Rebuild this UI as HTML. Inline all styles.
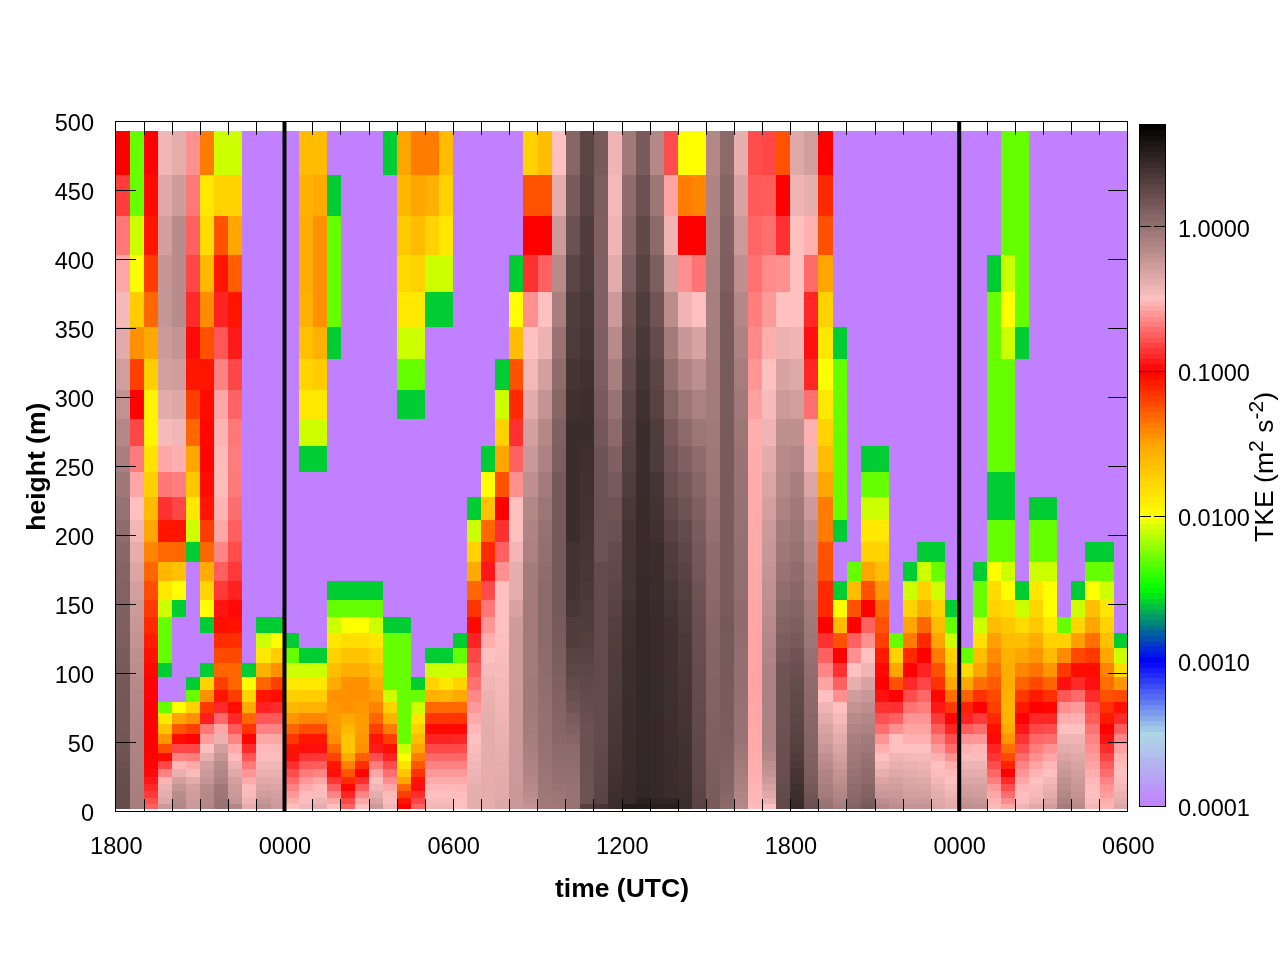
<!DOCTYPE html>
<html lang="en"><head><meta charset="utf-8"><title>TKE time-height</title><style>html,body{margin:0;padding:0;background:#fff;width:1280px;height:960px;overflow:hidden}</style></head><body>
<svg width="1280" height="960" viewBox="0 0 1280 960" style="display:block;position:absolute;left:0;top:0">
<rect width="1280" height="960" fill="#fff"/>
<g shape-rendering="crispEdges">
<rect x="116" y="784" width="14" height="25" fill="#664d4d"/>
<rect x="116" y="777" width="14" height="7" fill="#674e4e"/>
<rect x="116" y="769" width="14" height="8" fill="#684f4f"/>
<rect x="116" y="761" width="14" height="8" fill="#6b5151"/>
<rect x="116" y="753" width="14" height="8" fill="#6e5353"/>
<rect x="116" y="744" width="14" height="9" fill="#705555"/>
<rect x="116" y="734" width="14" height="10" fill="#725656"/>
<rect x="116" y="713" width="14" height="21" fill="#735656"/>
<rect x="116" y="702" width="14" height="11" fill="#735757"/>
<rect x="116" y="690" width="14" height="12" fill="#745757"/>
<rect x="116" y="677" width="14" height="13" fill="#755858"/>
<rect x="116" y="663" width="14" height="14" fill="#785a5a"/>
<rect x="116" y="648" width="14" height="15" fill="#7b5c5c"/>
<rect x="116" y="633" width="14" height="15" fill="#7d5e5e"/>
<rect x="116" y="617" width="14" height="16" fill="#7f5f5f"/>
<rect x="116" y="600" width="14" height="17" fill="#806161"/>
<rect x="116" y="581" width="14" height="19" fill="#826262"/>
<rect x="116" y="562" width="14" height="19" fill="#856464"/>
<rect x="116" y="542" width="14" height="20" fill="#8a6868"/>
<rect x="116" y="520" width="14" height="22" fill="#906c6c"/>
<rect x="116" y="497" width="14" height="23" fill="#977272"/>
<rect x="116" y="472" width="14" height="25" fill="#9f7878"/>
<rect x="116" y="446" width="14" height="26" fill="#a97f7f"/>
<rect x="116" y="419" width="14" height="27" fill="#b48888"/>
<rect x="116" y="390" width="14" height="29" fill="#c29292"/>
<rect x="116" y="359" width="14" height="31" fill="#d19e9e"/>
<rect x="116" y="327" width="14" height="32" fill="#e2aaaa"/>
<rect x="116" y="292" width="14" height="35" fill="#f6b9b9"/>
<rect x="116" y="255" width="14" height="37" fill="#ffa7a7"/>
<rect x="116" y="216" width="14" height="39" fill="#ff7777"/>
<rect x="116" y="175" width="14" height="41" fill="#ff3d3d"/>
<rect x="116" y="131" width="14" height="44" fill="#ff0000"/>
<rect x="130" y="804" width="14" height="5" fill="#a67d7d"/>
<rect x="130" y="798" width="14" height="6" fill="#a77e7e"/>
<rect x="130" y="791" width="14" height="7" fill="#a87e7e"/>
<rect x="130" y="784" width="14" height="7" fill="#a97f7f"/>
<rect x="130" y="777" width="14" height="7" fill="#aa8080"/>
<rect x="130" y="769" width="14" height="8" fill="#ab8080"/>
<rect x="130" y="761" width="14" height="8" fill="#ac8181"/>
<rect x="130" y="753" width="14" height="8" fill="#ad8282"/>
<rect x="130" y="744" width="14" height="9" fill="#ae8383"/>
<rect x="130" y="734" width="14" height="10" fill="#af8383"/>
<rect x="130" y="724" width="14" height="10" fill="#b08484"/>
<rect x="130" y="713" width="14" height="11" fill="#b18585"/>
<rect x="130" y="702" width="14" height="11" fill="#b28686"/>
<rect x="130" y="690" width="14" height="12" fill="#b48888"/>
<rect x="130" y="677" width="14" height="13" fill="#b78a8a"/>
<rect x="130" y="663" width="14" height="14" fill="#bb8d8d"/>
<rect x="130" y="648" width="14" height="15" fill="#bf9090"/>
<rect x="130" y="633" width="14" height="15" fill="#c49393"/>
<rect x="130" y="617" width="14" height="16" fill="#c89797"/>
<rect x="130" y="600" width="14" height="17" fill="#cd9a9a"/>
<rect x="130" y="581" width="14" height="19" fill="#d39f9f"/>
<rect x="130" y="562" width="14" height="19" fill="#dca6a6"/>
<rect x="130" y="542" width="14" height="20" fill="#e6adad"/>
<rect x="130" y="520" width="14" height="22" fill="#f1b6b6"/>
<rect x="130" y="497" width="14" height="23" fill="#fec0c0"/>
<rect x="130" y="472" width="14" height="25" fill="#ffa7a7"/>
<rect x="130" y="446" width="14" height="26" fill="#ff7a7a"/>
<rect x="130" y="419" width="14" height="27" fill="#ff4747"/>
<rect x="130" y="390" width="14" height="29" fill="#ff0101"/>
<rect x="130" y="359" width="14" height="31" fill="#ff3f00"/>
<rect x="130" y="327" width="14" height="32" fill="#ff9100"/>
<rect x="130" y="292" width="14" height="35" fill="#ffcc00"/>
<rect x="130" y="255" width="14" height="37" fill="#ffff00"/>
<rect x="130" y="216" width="14" height="39" fill="#ccff00"/>
<rect x="130" y="131" width="14" height="85" fill="#66ff00"/>
<rect x="144" y="804" width="14" height="5" fill="#ff6060"/>
<rect x="144" y="798" width="14" height="6" fill="#ff4e4e"/>
<rect x="144" y="791" width="14" height="7" fill="#ff3a3a"/>
<rect x="144" y="784" width="14" height="7" fill="#ff2727"/>
<rect x="144" y="777" width="14" height="7" fill="#ff1616"/>
<rect x="144" y="769" width="14" height="8" fill="#ff0a0a"/>
<rect x="144" y="761" width="14" height="8" fill="#ff0404"/>
<rect x="144" y="753" width="14" height="8" fill="#ff0101"/>
<rect x="144" y="702" width="14" height="51" fill="#ff0000"/>
<rect x="144" y="690" width="14" height="12" fill="#ff0100"/>
<rect x="144" y="677" width="14" height="13" fill="#ff0300"/>
<rect x="144" y="663" width="14" height="14" fill="#ff0800"/>
<rect x="144" y="648" width="14" height="15" fill="#ff1100"/>
<rect x="144" y="633" width="14" height="15" fill="#ff1c00"/>
<rect x="144" y="617" width="14" height="16" fill="#ff2a00"/>
<rect x="144" y="600" width="14" height="17" fill="#ff3a00"/>
<rect x="144" y="581" width="14" height="19" fill="#ff4e00"/>
<rect x="144" y="562" width="14" height="19" fill="#ff6600"/>
<rect x="144" y="542" width="14" height="20" fill="#ff8500"/>
<rect x="144" y="520" width="14" height="22" fill="#ffa700"/>
<rect x="144" y="497" width="14" height="23" fill="#ffbb00"/>
<rect x="144" y="472" width="14" height="25" fill="#ffd000"/>
<rect x="144" y="446" width="14" height="26" fill="#ffe200"/>
<rect x="144" y="390" width="14" height="56" fill="#fff300"/>
<rect x="144" y="359" width="14" height="31" fill="#ffce00"/>
<rect x="144" y="327" width="14" height="32" fill="#ffa800"/>
<rect x="144" y="292" width="14" height="35" fill="#ff6800"/>
<rect x="144" y="255" width="14" height="37" fill="#ff3d00"/>
<rect x="144" y="216" width="14" height="39" fill="#ff1500"/>
<rect x="144" y="175" width="14" height="41" fill="#ff0a00"/>
<rect x="144" y="131" width="14" height="44" fill="#ff0000"/>
<rect x="158" y="804" width="14" height="5" fill="#cc9a9a"/>
<rect x="158" y="798" width="14" height="6" fill="#dfa8a8"/>
<rect x="158" y="791" width="14" height="7" fill="#e5adad"/>
<rect x="158" y="784" width="14" height="7" fill="#ecb2b2"/>
<rect x="158" y="777" width="14" height="7" fill="#ffb4b4"/>
<rect x="158" y="769" width="14" height="8" fill="#ff8080"/>
<rect x="158" y="761" width="14" height="8" fill="#ff4747"/>
<rect x="158" y="753" width="14" height="8" fill="#ff0800"/>
<rect x="158" y="744" width="14" height="9" fill="#ff4e00"/>
<rect x="158" y="734" width="14" height="10" fill="#ff9500"/>
<rect x="158" y="724" width="14" height="10" fill="#ffc300"/>
<rect x="158" y="713" width="14" height="11" fill="#ffe800"/>
<rect x="158" y="702" width="14" height="11" fill="#66ff00"/>
<rect x="158" y="677" width="14" height="25" fill="#c080ff"/>
<rect x="158" y="663" width="14" height="14" fill="#00cc33"/>
<rect x="158" y="617" width="14" height="46" fill="#66ff00"/>
<rect x="158" y="600" width="14" height="17" fill="#ccff00"/>
<rect x="158" y="581" width="14" height="19" fill="#ffe800"/>
<rect x="158" y="562" width="14" height="19" fill="#ffb600"/>
<rect x="158" y="542" width="14" height="20" fill="#ff6800"/>
<rect x="158" y="520" width="14" height="22" fill="#ff1500"/>
<rect x="158" y="497" width="14" height="23" fill="#ff3131"/>
<rect x="158" y="472" width="14" height="25" fill="#ff7777"/>
<rect x="158" y="446" width="14" height="26" fill="#ffa7a7"/>
<rect x="158" y="419" width="14" height="27" fill="#f6baba"/>
<rect x="158" y="390" width="14" height="29" fill="#e4abab"/>
<rect x="158" y="359" width="14" height="31" fill="#d39f9f"/>
<rect x="158" y="327" width="14" height="32" fill="#cc9a9a"/>
<rect x="158" y="255" width="14" height="72" fill="#c69595"/>
<rect x="158" y="216" width="14" height="39" fill="#d29e9e"/>
<rect x="158" y="175" width="14" height="41" fill="#e0a8a8"/>
<rect x="158" y="131" width="14" height="44" fill="#f2b6b6"/>
<rect x="172" y="804" width="14" height="5" fill="#b28686"/>
<rect x="172" y="798" width="14" height="6" fill="#b68989"/>
<rect x="172" y="791" width="14" height="7" fill="#b98c8c"/>
<rect x="172" y="784" width="14" height="7" fill="#c69595"/>
<rect x="172" y="777" width="14" height="7" fill="#d39f9f"/>
<rect x="172" y="769" width="14" height="8" fill="#eab0b0"/>
<rect x="172" y="761" width="14" height="8" fill="#ffb7b7"/>
<rect x="172" y="753" width="14" height="8" fill="#ff8282"/>
<rect x="172" y="744" width="14" height="9" fill="#ff4747"/>
<rect x="172" y="734" width="14" height="10" fill="#ff0b00"/>
<rect x="172" y="724" width="14" height="10" fill="#ff5600"/>
<rect x="172" y="713" width="14" height="11" fill="#ffa500"/>
<rect x="172" y="702" width="14" height="11" fill="#ffff00"/>
<rect x="172" y="617" width="14" height="85" fill="#c080ff"/>
<rect x="172" y="600" width="14" height="17" fill="#00cc33"/>
<rect x="172" y="581" width="14" height="19" fill="#ffff00"/>
<rect x="172" y="562" width="14" height="19" fill="#ffc100"/>
<rect x="172" y="542" width="14" height="20" fill="#ff6800"/>
<rect x="172" y="520" width="14" height="22" fill="#ff1400"/>
<rect x="172" y="497" width="14" height="23" fill="#ff4747"/>
<rect x="172" y="472" width="14" height="25" fill="#ff7e7e"/>
<rect x="172" y="446" width="14" height="26" fill="#ffafaf"/>
<rect x="172" y="419" width="14" height="27" fill="#f2b6b6"/>
<rect x="172" y="390" width="14" height="29" fill="#dfa8a8"/>
<rect x="172" y="359" width="14" height="31" fill="#d09d9d"/>
<rect x="172" y="327" width="14" height="32" fill="#c49393"/>
<rect x="172" y="292" width="14" height="35" fill="#b98c8c"/>
<rect x="172" y="255" width="14" height="37" fill="#b98b8b"/>
<rect x="172" y="216" width="14" height="39" fill="#b98c8c"/>
<rect x="172" y="175" width="14" height="41" fill="#cf9c9c"/>
<rect x="172" y="131" width="14" height="44" fill="#e6adad"/>
<rect x="186" y="804" width="14" height="5" fill="#cc9a9a"/>
<rect x="186" y="798" width="14" height="6" fill="#cd9b9b"/>
<rect x="186" y="791" width="14" height="7" fill="#d09c9c"/>
<rect x="186" y="784" width="14" height="7" fill="#d39f9f"/>
<rect x="186" y="777" width="14" height="7" fill="#e5acac"/>
<rect x="186" y="769" width="14" height="8" fill="#f8baba"/>
<rect x="186" y="761" width="14" height="8" fill="#ffa8a8"/>
<rect x="186" y="753" width="14" height="8" fill="#ff7c7c"/>
<rect x="186" y="744" width="14" height="9" fill="#ff4747"/>
<rect x="186" y="734" width="14" height="10" fill="#ff0202"/>
<rect x="186" y="724" width="14" height="10" fill="#ff3f00"/>
<rect x="186" y="713" width="14" height="11" fill="#ff9100"/>
<rect x="186" y="702" width="14" height="11" fill="#ffd200"/>
<rect x="186" y="690" width="14" height="12" fill="#66ff00"/>
<rect x="186" y="677" width="14" height="13" fill="#00cc33"/>
<rect x="186" y="562" width="14" height="115" fill="#c080ff"/>
<rect x="186" y="542" width="14" height="20" fill="#00cc33"/>
<rect x="186" y="520" width="14" height="22" fill="#ccff00"/>
<rect x="186" y="497" width="14" height="23" fill="#ffe800"/>
<rect x="186" y="472" width="14" height="25" fill="#ffc700"/>
<rect x="186" y="446" width="14" height="26" fill="#ffa600"/>
<rect x="186" y="419" width="14" height="27" fill="#ff6800"/>
<rect x="186" y="390" width="14" height="29" fill="#ff3f00"/>
<rect x="186" y="359" width="14" height="31" fill="#ff1500"/>
<rect x="186" y="327" width="14" height="32" fill="#ff0a0a"/>
<rect x="186" y="292" width="14" height="35" fill="#ff2a2a"/>
<rect x="186" y="255" width="14" height="37" fill="#ff4747"/>
<rect x="186" y="216" width="14" height="39" fill="#ff6060"/>
<rect x="186" y="175" width="14" height="41" fill="#ff7878"/>
<rect x="186" y="131" width="14" height="44" fill="#ff9090"/>
<rect x="200" y="804" width="14" height="5" fill="#b28686"/>
<rect x="200" y="798" width="14" height="6" fill="#b48888"/>
<rect x="200" y="791" width="14" height="7" fill="#b68989"/>
<rect x="200" y="784" width="14" height="7" fill="#b98c8c"/>
<rect x="200" y="777" width="14" height="7" fill="#c59494"/>
<rect x="200" y="769" width="14" height="8" fill="#cc9a9a"/>
<rect x="200" y="761" width="14" height="8" fill="#d39f9f"/>
<rect x="200" y="753" width="14" height="8" fill="#e8afaf"/>
<rect x="200" y="744" width="14" height="9" fill="#fdbfbf"/>
<rect x="200" y="734" width="14" height="10" fill="#ff9d9d"/>
<rect x="200" y="724" width="14" height="10" fill="#ff7777"/>
<rect x="200" y="713" width="14" height="11" fill="#ff1e1e"/>
<rect x="200" y="702" width="14" height="11" fill="#ff3900"/>
<rect x="200" y="690" width="14" height="12" fill="#ff9100"/>
<rect x="200" y="677" width="14" height="13" fill="#ffd200"/>
<rect x="200" y="663" width="14" height="14" fill="#00cc33"/>
<rect x="200" y="633" width="14" height="30" fill="#c080ff"/>
<rect x="200" y="617" width="14" height="16" fill="#00cc33"/>
<rect x="200" y="600" width="14" height="17" fill="#ffff00"/>
<rect x="200" y="581" width="14" height="19" fill="#ffd400"/>
<rect x="200" y="562" width="14" height="19" fill="#ffab00"/>
<rect x="200" y="542" width="14" height="20" fill="#ff6800"/>
<rect x="200" y="520" width="14" height="22" fill="#ff3d00"/>
<rect x="200" y="497" width="14" height="23" fill="#ff1500"/>
<rect x="200" y="472" width="14" height="25" fill="#ff0b00"/>
<rect x="200" y="446" width="14" height="26" fill="#ff0500"/>
<rect x="200" y="419" width="14" height="27" fill="#ff0600"/>
<rect x="200" y="390" width="14" height="29" fill="#ff0c00"/>
<rect x="200" y="359" width="14" height="31" fill="#ff1500"/>
<rect x="200" y="327" width="14" height="32" fill="#ff5000"/>
<rect x="200" y="292" width="14" height="35" fill="#ff8c00"/>
<rect x="200" y="255" width="14" height="37" fill="#ffba00"/>
<rect x="200" y="216" width="14" height="39" fill="#ffdd00"/>
<rect x="200" y="175" width="14" height="41" fill="#ffe800"/>
<rect x="200" y="131" width="14" height="44" fill="#ff7c00"/>
<rect x="214" y="804" width="14" height="5" fill="#997373"/>
<rect x="214" y="798" width="14" height="6" fill="#9a7474"/>
<rect x="214" y="791" width="14" height="7" fill="#9d7676"/>
<rect x="214" y="784" width="14" height="7" fill="#a07878"/>
<rect x="214" y="777" width="14" height="7" fill="#ac8181"/>
<rect x="214" y="769" width="14" height="8" fill="#b28686"/>
<rect x="214" y="761" width="14" height="8" fill="#b98c8c"/>
<rect x="214" y="753" width="14" height="8" fill="#c69595"/>
<rect x="214" y="744" width="14" height="9" fill="#d39f9f"/>
<rect x="214" y="734" width="14" height="10" fill="#ecb2b2"/>
<rect x="214" y="724" width="14" height="10" fill="#ffa7a7"/>
<rect x="214" y="713" width="14" height="11" fill="#ff6868"/>
<rect x="214" y="702" width="14" height="11" fill="#ff2828"/>
<rect x="214" y="690" width="14" height="12" fill="#ff1400"/>
<rect x="214" y="677" width="14" height="13" fill="#ff3f00"/>
<rect x="214" y="663" width="14" height="14" fill="#ff6600"/>
<rect x="214" y="648" width="14" height="15" fill="#ff4a00"/>
<rect x="214" y="633" width="14" height="15" fill="#ff2c00"/>
<rect x="214" y="617" width="14" height="16" fill="#ff0f00"/>
<rect x="214" y="600" width="14" height="17" fill="#ff1313"/>
<rect x="214" y="581" width="14" height="19" fill="#ff3838"/>
<rect x="214" y="562" width="14" height="19" fill="#ff5f5f"/>
<rect x="214" y="542" width="14" height="20" fill="#ff8484"/>
<rect x="214" y="520" width="14" height="22" fill="#ffa7a7"/>
<rect x="214" y="497" width="14" height="23" fill="#ffb3b3"/>
<rect x="214" y="446" width="14" height="51" fill="#ffbaba"/>
<rect x="214" y="419" width="14" height="27" fill="#ffb3b3"/>
<rect x="214" y="390" width="14" height="29" fill="#ffa7a7"/>
<rect x="214" y="359" width="14" height="31" fill="#ff8282"/>
<rect x="214" y="327" width="14" height="32" fill="#ff5757"/>
<rect x="214" y="292" width="14" height="35" fill="#ff2222"/>
<rect x="214" y="255" width="14" height="37" fill="#ff1500"/>
<rect x="214" y="216" width="14" height="39" fill="#ff5200"/>
<rect x="214" y="175" width="14" height="41" fill="#ffd200"/>
<rect x="214" y="131" width="14" height="44" fill="#ccff00"/>
<rect x="228" y="804" width="14" height="5" fill="#b28686"/>
<rect x="228" y="798" width="14" height="6" fill="#c59494"/>
<rect x="228" y="791" width="14" height="7" fill="#ca9898"/>
<rect x="228" y="784" width="14" height="7" fill="#ce9b9b"/>
<rect x="228" y="777" width="14" height="7" fill="#d39f9f"/>
<rect x="228" y="769" width="14" height="8" fill="#e0a8a8"/>
<rect x="228" y="761" width="14" height="8" fill="#ecb2b2"/>
<rect x="228" y="753" width="14" height="8" fill="#fbbdbd"/>
<rect x="228" y="744" width="14" height="9" fill="#ffa9a9"/>
<rect x="228" y="734" width="14" height="10" fill="#ff8585"/>
<rect x="228" y="724" width="14" height="10" fill="#ff5959"/>
<rect x="228" y="713" width="14" height="11" fill="#ff2727"/>
<rect x="228" y="702" width="14" height="11" fill="#ff0d00"/>
<rect x="228" y="690" width="14" height="12" fill="#ff3d00"/>
<rect x="228" y="663" width="14" height="27" fill="#ff6600"/>
<rect x="228" y="648" width="14" height="15" fill="#ff4a00"/>
<rect x="228" y="633" width="14" height="15" fill="#ff2e00"/>
<rect x="228" y="617" width="14" height="16" fill="#ff1200"/>
<rect x="228" y="600" width="14" height="17" fill="#ff0808"/>
<rect x="228" y="581" width="14" height="19" fill="#ff2222"/>
<rect x="228" y="562" width="14" height="19" fill="#ff3939"/>
<rect x="228" y="542" width="14" height="20" fill="#ff4d4d"/>
<rect x="228" y="520" width="14" height="22" fill="#ff5f5f"/>
<rect x="228" y="497" width="14" height="23" fill="#ff6e6e"/>
<rect x="228" y="472" width="14" height="25" fill="#ff7979"/>
<rect x="228" y="446" width="14" height="26" fill="#ff7c7c"/>
<rect x="228" y="419" width="14" height="27" fill="#ff7777"/>
<rect x="228" y="390" width="14" height="29" fill="#ff6363"/>
<rect x="228" y="359" width="14" height="31" fill="#ff4747"/>
<rect x="228" y="327" width="14" height="32" fill="#ff1a1a"/>
<rect x="228" y="292" width="14" height="35" fill="#ff1500"/>
<rect x="228" y="255" width="14" height="37" fill="#ff5d00"/>
<rect x="228" y="216" width="14" height="39" fill="#ffa700"/>
<rect x="228" y="175" width="14" height="41" fill="#ffd200"/>
<rect x="228" y="131" width="14" height="44" fill="#ccff00"/>
<rect x="242" y="804" width="14" height="5" fill="#e5adad"/>
<rect x="242" y="798" width="14" height="6" fill="#efb4b4"/>
<rect x="242" y="791" width="14" height="7" fill="#f8bbbb"/>
<rect x="242" y="784" width="14" height="7" fill="#ffbcbc"/>
<rect x="242" y="777" width="14" height="7" fill="#ffabab"/>
<rect x="242" y="769" width="14" height="8" fill="#ff9595"/>
<rect x="242" y="761" width="14" height="8" fill="#ff7979"/>
<rect x="242" y="753" width="14" height="8" fill="#ff5555"/>
<rect x="242" y="744" width="14" height="9" fill="#ff2b2b"/>
<rect x="242" y="734" width="14" height="10" fill="#ff0500"/>
<rect x="242" y="724" width="14" height="10" fill="#ff3400"/>
<rect x="242" y="713" width="14" height="11" fill="#ff6800"/>
<rect x="242" y="702" width="14" height="11" fill="#ffab00"/>
<rect x="242" y="690" width="14" height="12" fill="#ffd400"/>
<rect x="242" y="677" width="14" height="13" fill="#ffff00"/>
<rect x="242" y="663" width="14" height="14" fill="#00cc33"/>
<rect x="242" y="131" width="14" height="532" fill="#c080ff"/>
<rect x="256" y="804" width="15" height="5" fill="#bf9090"/>
<rect x="256" y="798" width="15" height="6" fill="#c89696"/>
<rect x="256" y="791" width="15" height="7" fill="#d09d9d"/>
<rect x="256" y="784" width="15" height="7" fill="#d9a3a3"/>
<rect x="256" y="777" width="15" height="7" fill="#e1aaaa"/>
<rect x="256" y="769" width="15" height="8" fill="#eab0b0"/>
<rect x="256" y="761" width="15" height="8" fill="#f2b6b6"/>
<rect x="256" y="753" width="15" height="8" fill="#fabcbc"/>
<rect x="256" y="744" width="15" height="9" fill="#ffb9b9"/>
<rect x="256" y="734" width="15" height="10" fill="#ffa7a7"/>
<rect x="256" y="724" width="15" height="10" fill="#ff8282"/>
<rect x="256" y="713" width="15" height="11" fill="#ff5757"/>
<rect x="256" y="702" width="15" height="11" fill="#ff2222"/>
<rect x="256" y="690" width="15" height="12" fill="#ff1500"/>
<rect x="256" y="677" width="15" height="13" fill="#ff6600"/>
<rect x="256" y="663" width="15" height="14" fill="#ffb100"/>
<rect x="256" y="648" width="15" height="15" fill="#ffe800"/>
<rect x="256" y="633" width="15" height="15" fill="#ccff00"/>
<rect x="256" y="617" width="15" height="16" fill="#00cc33"/>
<rect x="256" y="131" width="15" height="486" fill="#c080ff"/>
<rect x="271" y="804" width="14" height="5" fill="#cc9a9a"/>
<rect x="271" y="798" width="14" height="6" fill="#cf9c9c"/>
<rect x="271" y="791" width="14" height="7" fill="#d39f9f"/>
<rect x="271" y="784" width="14" height="7" fill="#daa4a4"/>
<rect x="271" y="777" width="14" height="7" fill="#e2aaaa"/>
<rect x="271" y="769" width="14" height="8" fill="#eab0b0"/>
<rect x="271" y="761" width="14" height="8" fill="#f2b6b6"/>
<rect x="271" y="753" width="14" height="8" fill="#fabcbc"/>
<rect x="271" y="744" width="14" height="9" fill="#ffb9b9"/>
<rect x="271" y="734" width="14" height="10" fill="#ffa7a7"/>
<rect x="271" y="724" width="14" height="10" fill="#ff8383"/>
<rect x="271" y="713" width="14" height="11" fill="#ff5a5a"/>
<rect x="271" y="702" width="14" height="11" fill="#ff2a2a"/>
<rect x="271" y="690" width="14" height="12" fill="#ff0b00"/>
<rect x="271" y="677" width="14" height="13" fill="#ff3f00"/>
<rect x="271" y="663" width="14" height="14" fill="#ff9100"/>
<rect x="271" y="648" width="14" height="15" fill="#ffcc00"/>
<rect x="271" y="633" width="14" height="15" fill="#ffff00"/>
<rect x="271" y="617" width="14" height="16" fill="#00cc33"/>
<rect x="271" y="131" width="14" height="486" fill="#c080ff"/>
<rect x="285" y="804" width="14" height="5" fill="#ffc0c0"/>
<rect x="285" y="798" width="14" height="6" fill="#ffadad"/>
<rect x="285" y="791" width="14" height="7" fill="#ff9999"/>
<rect x="285" y="784" width="14" height="7" fill="#ff8282"/>
<rect x="285" y="777" width="14" height="7" fill="#ff6969"/>
<rect x="285" y="769" width="14" height="8" fill="#ff4d4d"/>
<rect x="285" y="761" width="14" height="8" fill="#ff2f2f"/>
<rect x="285" y="753" width="14" height="8" fill="#ff0e0e"/>
<rect x="285" y="744" width="14" height="9" fill="#ff1400"/>
<rect x="285" y="734" width="14" height="10" fill="#ff3900"/>
<rect x="285" y="724" width="14" height="10" fill="#ff6500"/>
<rect x="285" y="713" width="14" height="11" fill="#ff9600"/>
<rect x="285" y="702" width="14" height="11" fill="#ffb700"/>
<rect x="285" y="690" width="14" height="12" fill="#ffd000"/>
<rect x="285" y="677" width="14" height="13" fill="#ffe800"/>
<rect x="285" y="663" width="14" height="14" fill="#ccff00"/>
<rect x="285" y="648" width="14" height="15" fill="#66ff00"/>
<rect x="285" y="633" width="14" height="15" fill="#00cc33"/>
<rect x="285" y="131" width="14" height="502" fill="#c080ff"/>
<rect x="299" y="804" width="14" height="5" fill="#f2b6b6"/>
<rect x="299" y="798" width="14" height="6" fill="#fabcbc"/>
<rect x="299" y="791" width="14" height="7" fill="#ffbcbc"/>
<rect x="299" y="784" width="14" height="7" fill="#ffabab"/>
<rect x="299" y="777" width="14" height="7" fill="#ff9595"/>
<rect x="299" y="769" width="14" height="8" fill="#ff7a7a"/>
<rect x="299" y="761" width="14" height="8" fill="#ff5858"/>
<rect x="299" y="753" width="14" height="8" fill="#ff3434"/>
<rect x="299" y="744" width="14" height="9" fill="#ff0d0d"/>
<rect x="299" y="734" width="14" height="10" fill="#ff1500"/>
<rect x="299" y="724" width="14" height="10" fill="#ff4d00"/>
<rect x="299" y="713" width="14" height="11" fill="#ff8500"/>
<rect x="299" y="702" width="14" height="11" fill="#ffb200"/>
<rect x="299" y="690" width="14" height="12" fill="#ffce00"/>
<rect x="299" y="677" width="14" height="13" fill="#ffe800"/>
<rect x="299" y="663" width="14" height="14" fill="#ccff00"/>
<rect x="299" y="648" width="14" height="15" fill="#00cc33"/>
<rect x="299" y="472" width="14" height="176" fill="#c080ff"/>
<rect x="299" y="446" width="14" height="26" fill="#00cc33"/>
<rect x="299" y="419" width="14" height="27" fill="#ccff00"/>
<rect x="299" y="390" width="14" height="29" fill="#ffe800"/>
<rect x="299" y="359" width="14" height="31" fill="#ffd400"/>
<rect x="299" y="327" width="14" height="32" fill="#ffc100"/>
<rect x="299" y="292" width="14" height="35" fill="#ffb100"/>
<rect x="299" y="216" width="14" height="76" fill="#ffad00"/>
<rect x="299" y="175" width="14" height="41" fill="#ffb100"/>
<rect x="299" y="131" width="14" height="44" fill="#ffbc00"/>
<rect x="313" y="804" width="14" height="5" fill="#e5adad"/>
<rect x="313" y="798" width="14" height="6" fill="#efb4b4"/>
<rect x="313" y="791" width="14" height="7" fill="#f9bbbb"/>
<rect x="313" y="784" width="14" height="7" fill="#ffbaba"/>
<rect x="313" y="777" width="14" height="7" fill="#ffa7a7"/>
<rect x="313" y="769" width="14" height="8" fill="#ff8484"/>
<rect x="313" y="761" width="14" height="8" fill="#ff5e5e"/>
<rect x="313" y="753" width="14" height="8" fill="#ff3636"/>
<rect x="313" y="744" width="14" height="9" fill="#ff0e0e"/>
<rect x="313" y="734" width="14" height="10" fill="#ff1500"/>
<rect x="313" y="724" width="14" height="10" fill="#ff4d00"/>
<rect x="313" y="713" width="14" height="11" fill="#ff8500"/>
<rect x="313" y="702" width="14" height="11" fill="#ffb200"/>
<rect x="313" y="690" width="14" height="12" fill="#ffce00"/>
<rect x="313" y="677" width="14" height="13" fill="#ffe800"/>
<rect x="313" y="663" width="14" height="14" fill="#ccff00"/>
<rect x="313" y="648" width="14" height="15" fill="#00cc33"/>
<rect x="313" y="472" width="14" height="176" fill="#c080ff"/>
<rect x="313" y="446" width="14" height="26" fill="#00cc33"/>
<rect x="313" y="419" width="14" height="27" fill="#ccff00"/>
<rect x="313" y="390" width="14" height="29" fill="#ffe800"/>
<rect x="313" y="359" width="14" height="31" fill="#ffcc00"/>
<rect x="313" y="327" width="14" height="32" fill="#ffb100"/>
<rect x="313" y="292" width="14" height="35" fill="#ff9100"/>
<rect x="313" y="255" width="14" height="37" fill="#ff9000"/>
<rect x="313" y="216" width="14" height="39" fill="#ff9100"/>
<rect x="313" y="175" width="14" height="41" fill="#ffaa00"/>
<rect x="313" y="131" width="14" height="44" fill="#ffbc00"/>
<rect x="327" y="804" width="14" height="5" fill="#ffc0c0"/>
<rect x="327" y="798" width="14" height="6" fill="#ffa7a7"/>
<rect x="327" y="791" width="14" height="7" fill="#ff8484"/>
<rect x="327" y="784" width="14" height="7" fill="#ff5e5e"/>
<rect x="327" y="777" width="14" height="7" fill="#ff3636"/>
<rect x="327" y="769" width="14" height="8" fill="#ff0e0e"/>
<rect x="327" y="761" width="14" height="8" fill="#ff1500"/>
<rect x="327" y="753" width="14" height="8" fill="#ff4300"/>
<rect x="327" y="744" width="14" height="9" fill="#ff6b00"/>
<rect x="327" y="734" width="14" height="10" fill="#ff9000"/>
<rect x="327" y="724" width="14" height="10" fill="#ff9800"/>
<rect x="327" y="713" width="14" height="11" fill="#ff9b00"/>
<rect x="327" y="702" width="14" height="11" fill="#ff9800"/>
<rect x="327" y="690" width="14" height="12" fill="#ff9100"/>
<rect x="327" y="677" width="14" height="13" fill="#ffab00"/>
<rect x="327" y="663" width="14" height="14" fill="#ffbe00"/>
<rect x="327" y="648" width="14" height="15" fill="#ffd300"/>
<rect x="327" y="633" width="14" height="15" fill="#ffe800"/>
<rect x="327" y="617" width="14" height="16" fill="#ccff00"/>
<rect x="327" y="600" width="14" height="17" fill="#66ff00"/>
<rect x="327" y="581" width="14" height="19" fill="#00cc33"/>
<rect x="327" y="359" width="14" height="222" fill="#c080ff"/>
<rect x="327" y="327" width="14" height="32" fill="#00cc33"/>
<rect x="327" y="216" width="14" height="111" fill="#66ff00"/>
<rect x="327" y="175" width="14" height="41" fill="#00cc33"/>
<rect x="327" y="131" width="14" height="44" fill="#c080ff"/>
<rect x="341" y="804" width="14" height="5" fill="#ff6060"/>
<rect x="341" y="798" width="14" height="6" fill="#ff4747"/>
<rect x="341" y="791" width="14" height="7" fill="#ff2424"/>
<rect x="341" y="784" width="14" height="7" fill="#ff0400"/>
<rect x="341" y="777" width="14" height="7" fill="#ff2b00"/>
<rect x="341" y="769" width="14" height="8" fill="#ff5500"/>
<rect x="341" y="761" width="14" height="8" fill="#ff8200"/>
<rect x="341" y="753" width="14" height="8" fill="#ffac00"/>
<rect x="341" y="734" width="14" height="19" fill="#ffc600"/>
<rect x="341" y="724" width="14" height="10" fill="#ffb700"/>
<rect x="341" y="713" width="14" height="11" fill="#ffa900"/>
<rect x="341" y="702" width="14" height="11" fill="#ff9100"/>
<rect x="341" y="690" width="14" height="12" fill="#ff9000"/>
<rect x="341" y="677" width="14" height="13" fill="#ff9100"/>
<rect x="341" y="663" width="14" height="14" fill="#ffad00"/>
<rect x="341" y="648" width="14" height="15" fill="#ffc300"/>
<rect x="341" y="633" width="14" height="15" fill="#ffde00"/>
<rect x="341" y="617" width="14" height="16" fill="#ffff00"/>
<rect x="341" y="600" width="14" height="17" fill="#66ff00"/>
<rect x="341" y="581" width="14" height="19" fill="#00cc33"/>
<rect x="341" y="131" width="14" height="450" fill="#c080ff"/>
<rect x="355" y="804" width="14" height="5" fill="#ffc0c0"/>
<rect x="355" y="798" width="14" height="6" fill="#ffa7a7"/>
<rect x="355" y="791" width="14" height="7" fill="#ff8484"/>
<rect x="355" y="784" width="14" height="7" fill="#ff5b5b"/>
<rect x="355" y="777" width="14" height="7" fill="#ff2e2e"/>
<rect x="355" y="769" width="14" height="8" fill="#ff0300"/>
<rect x="355" y="761" width="14" height="8" fill="#ff2f00"/>
<rect x="355" y="753" width="14" height="8" fill="#ff5f00"/>
<rect x="355" y="744" width="14" height="9" fill="#ff9000"/>
<rect x="355" y="734" width="14" height="10" fill="#ff9800"/>
<rect x="355" y="724" width="14" height="10" fill="#ff9d00"/>
<rect x="355" y="713" width="14" height="11" fill="#ff9c00"/>
<rect x="355" y="702" width="14" height="11" fill="#ff9800"/>
<rect x="355" y="677" width="14" height="25" fill="#ff9100"/>
<rect x="355" y="663" width="14" height="14" fill="#ffad00"/>
<rect x="355" y="648" width="14" height="15" fill="#ffc400"/>
<rect x="355" y="633" width="14" height="15" fill="#ffde00"/>
<rect x="355" y="617" width="14" height="16" fill="#ffff00"/>
<rect x="355" y="600" width="14" height="17" fill="#66ff00"/>
<rect x="355" y="581" width="14" height="19" fill="#00cc33"/>
<rect x="355" y="131" width="14" height="450" fill="#c080ff"/>
<rect x="369" y="804" width="14" height="5" fill="#cc9a9a"/>
<rect x="369" y="798" width="14" height="6" fill="#d9a3a3"/>
<rect x="369" y="791" width="14" height="7" fill="#e5acac"/>
<rect x="369" y="784" width="14" height="7" fill="#f1b6b6"/>
<rect x="369" y="777" width="14" height="7" fill="#febfbf"/>
<rect x="369" y="769" width="14" height="8" fill="#ffa7a7"/>
<rect x="369" y="761" width="14" height="8" fill="#ff7d7d"/>
<rect x="369" y="753" width="14" height="8" fill="#ff4e4e"/>
<rect x="369" y="744" width="14" height="9" fill="#ff1919"/>
<rect x="369" y="734" width="14" height="10" fill="#ff1500"/>
<rect x="369" y="724" width="14" height="10" fill="#ff3f00"/>
<rect x="369" y="713" width="14" height="11" fill="#ff6600"/>
<rect x="369" y="702" width="14" height="11" fill="#ff8200"/>
<rect x="369" y="690" width="14" height="12" fill="#ff9c00"/>
<rect x="369" y="677" width="14" height="13" fill="#ffaf00"/>
<rect x="369" y="663" width="14" height="14" fill="#ffc000"/>
<rect x="369" y="648" width="14" height="15" fill="#ffd400"/>
<rect x="369" y="633" width="14" height="15" fill="#ffe800"/>
<rect x="369" y="617" width="14" height="16" fill="#ccff00"/>
<rect x="369" y="600" width="14" height="17" fill="#66ff00"/>
<rect x="369" y="581" width="14" height="19" fill="#00cc33"/>
<rect x="369" y="131" width="14" height="450" fill="#c080ff"/>
<rect x="383" y="804" width="14" height="5" fill="#f2b6b6"/>
<rect x="383" y="798" width="14" height="6" fill="#fabcbc"/>
<rect x="383" y="791" width="14" height="7" fill="#ffb9b9"/>
<rect x="383" y="784" width="14" height="7" fill="#ffa7a7"/>
<rect x="383" y="777" width="14" height="7" fill="#ff8c8c"/>
<rect x="383" y="769" width="14" height="8" fill="#ff6e6e"/>
<rect x="383" y="761" width="14" height="8" fill="#ff4b4b"/>
<rect x="383" y="753" width="14" height="8" fill="#ff2222"/>
<rect x="383" y="744" width="14" height="9" fill="#ff0e00"/>
<rect x="383" y="734" width="14" height="10" fill="#ff3f00"/>
<rect x="383" y="724" width="14" height="10" fill="#ff7c00"/>
<rect x="383" y="713" width="14" height="11" fill="#ffb100"/>
<rect x="383" y="702" width="14" height="11" fill="#ffd200"/>
<rect x="383" y="690" width="14" height="12" fill="#ccff00"/>
<rect x="383" y="633" width="14" height="57" fill="#66ff00"/>
<rect x="383" y="617" width="14" height="16" fill="#00cc33"/>
<rect x="383" y="175" width="14" height="442" fill="#c080ff"/>
<rect x="383" y="131" width="14" height="44" fill="#00cc33"/>
<rect x="397" y="804" width="14" height="5" fill="#ff0000"/>
<rect x="397" y="798" width="14" height="6" fill="#ff1500"/>
<rect x="397" y="791" width="14" height="7" fill="#ff3d00"/>
<rect x="397" y="784" width="14" height="7" fill="#ff6800"/>
<rect x="397" y="777" width="14" height="7" fill="#ffa500"/>
<rect x="397" y="769" width="14" height="8" fill="#ffc600"/>
<rect x="397" y="761" width="14" height="8" fill="#ffe300"/>
<rect x="397" y="753" width="14" height="8" fill="#ffff00"/>
<rect x="397" y="744" width="14" height="9" fill="#ccff00"/>
<rect x="397" y="633" width="14" height="111" fill="#66ff00"/>
<rect x="397" y="617" width="14" height="16" fill="#00cc33"/>
<rect x="397" y="419" width="14" height="198" fill="#c080ff"/>
<rect x="397" y="390" width="14" height="29" fill="#00cc33"/>
<rect x="397" y="359" width="14" height="31" fill="#66ff00"/>
<rect x="397" y="327" width="14" height="32" fill="#ccff00"/>
<rect x="397" y="292" width="14" height="35" fill="#ffe800"/>
<rect x="397" y="255" width="14" height="37" fill="#ffd900"/>
<rect x="397" y="216" width="14" height="39" fill="#ffc900"/>
<rect x="397" y="175" width="14" height="41" fill="#ffb800"/>
<rect x="397" y="131" width="14" height="44" fill="#ffa500"/>
<rect x="411" y="804" width="14" height="5" fill="#ff6060"/>
<rect x="411" y="798" width="14" height="6" fill="#ff4747"/>
<rect x="411" y="791" width="14" height="7" fill="#ff2c2c"/>
<rect x="411" y="784" width="14" height="7" fill="#ff0e0e"/>
<rect x="411" y="777" width="14" height="7" fill="#ff1100"/>
<rect x="411" y="769" width="14" height="8" fill="#ff3100"/>
<rect x="411" y="761" width="14" height="8" fill="#ff5600"/>
<rect x="411" y="753" width="14" height="8" fill="#ff7d00"/>
<rect x="411" y="744" width="14" height="9" fill="#ffa500"/>
<rect x="411" y="734" width="14" height="10" fill="#ffbc00"/>
<rect x="411" y="724" width="14" height="10" fill="#ffd200"/>
<rect x="411" y="713" width="14" height="11" fill="#ffe800"/>
<rect x="411" y="702" width="14" height="11" fill="#ccff00"/>
<rect x="411" y="690" width="14" height="12" fill="#66ff00"/>
<rect x="411" y="677" width="14" height="13" fill="#00cc33"/>
<rect x="411" y="419" width="14" height="258" fill="#c080ff"/>
<rect x="411" y="390" width="14" height="29" fill="#00cc33"/>
<rect x="411" y="359" width="14" height="31" fill="#66ff00"/>
<rect x="411" y="327" width="14" height="32" fill="#ccff00"/>
<rect x="411" y="292" width="14" height="35" fill="#ffe800"/>
<rect x="411" y="255" width="14" height="37" fill="#ffd200"/>
<rect x="411" y="216" width="14" height="39" fill="#ffbc00"/>
<rect x="411" y="175" width="14" height="41" fill="#ffa500"/>
<rect x="411" y="131" width="14" height="44" fill="#ff7c00"/>
<rect x="425" y="804" width="14" height="5" fill="#f2b6b6"/>
<rect x="425" y="798" width="14" height="6" fill="#f8bbbb"/>
<rect x="425" y="791" width="14" height="7" fill="#febfbf"/>
<rect x="425" y="784" width="14" height="7" fill="#ffb8b8"/>
<rect x="425" y="777" width="14" height="7" fill="#ffaaaa"/>
<rect x="425" y="769" width="14" height="8" fill="#ff9898"/>
<rect x="425" y="761" width="14" height="8" fill="#ff8282"/>
<rect x="425" y="753" width="14" height="8" fill="#ff6868"/>
<rect x="425" y="744" width="14" height="9" fill="#ff4949"/>
<rect x="425" y="734" width="14" height="10" fill="#ff2424"/>
<rect x="425" y="724" width="14" height="10" fill="#ff0800"/>
<rect x="425" y="713" width="14" height="11" fill="#ff3600"/>
<rect x="425" y="702" width="14" height="11" fill="#ff6800"/>
<rect x="425" y="690" width="14" height="12" fill="#ffb000"/>
<rect x="425" y="677" width="14" height="13" fill="#ffd200"/>
<rect x="425" y="663" width="14" height="14" fill="#ccff00"/>
<rect x="425" y="648" width="14" height="15" fill="#00cc33"/>
<rect x="425" y="327" width="14" height="321" fill="#c080ff"/>
<rect x="425" y="292" width="14" height="35" fill="#00cc33"/>
<rect x="425" y="255" width="14" height="37" fill="#ccff00"/>
<rect x="425" y="216" width="14" height="39" fill="#ffd200"/>
<rect x="425" y="175" width="14" height="41" fill="#ffb000"/>
<rect x="425" y="131" width="14" height="44" fill="#ff7c00"/>
<rect x="439" y="804" width="14" height="5" fill="#f2b6b6"/>
<rect x="439" y="798" width="14" height="6" fill="#f8bbbb"/>
<rect x="439" y="791" width="14" height="7" fill="#febfbf"/>
<rect x="439" y="784" width="14" height="7" fill="#ffb8b8"/>
<rect x="439" y="777" width="14" height="7" fill="#ffaaaa"/>
<rect x="439" y="769" width="14" height="8" fill="#ff9898"/>
<rect x="439" y="761" width="14" height="8" fill="#ff8282"/>
<rect x="439" y="753" width="14" height="8" fill="#ff6868"/>
<rect x="439" y="744" width="14" height="9" fill="#ff4949"/>
<rect x="439" y="734" width="14" height="10" fill="#ff2424"/>
<rect x="439" y="724" width="14" height="10" fill="#ff0800"/>
<rect x="439" y="713" width="14" height="11" fill="#ff3600"/>
<rect x="439" y="702" width="14" height="11" fill="#ff6800"/>
<rect x="439" y="690" width="14" height="12" fill="#ffb600"/>
<rect x="439" y="677" width="14" height="13" fill="#ffe800"/>
<rect x="439" y="663" width="14" height="14" fill="#ccff00"/>
<rect x="439" y="648" width="14" height="15" fill="#00cc33"/>
<rect x="439" y="327" width="14" height="321" fill="#c080ff"/>
<rect x="439" y="292" width="14" height="35" fill="#00cc33"/>
<rect x="439" y="255" width="14" height="37" fill="#ccff00"/>
<rect x="439" y="216" width="14" height="39" fill="#ffe800"/>
<rect x="439" y="175" width="14" height="41" fill="#ffd200"/>
<rect x="439" y="131" width="14" height="44" fill="#ffbc00"/>
<rect x="453" y="804" width="14" height="5" fill="#ffc0c0"/>
<rect x="453" y="798" width="14" height="6" fill="#ffbfbf"/>
<rect x="453" y="791" width="14" height="7" fill="#ffbcbc"/>
<rect x="453" y="784" width="14" height="7" fill="#ffb6b6"/>
<rect x="453" y="777" width="14" height="7" fill="#ffaaaa"/>
<rect x="453" y="769" width="14" height="8" fill="#ff9898"/>
<rect x="453" y="761" width="14" height="8" fill="#ff8282"/>
<rect x="453" y="753" width="14" height="8" fill="#ff6868"/>
<rect x="453" y="744" width="14" height="9" fill="#ff4a4a"/>
<rect x="453" y="734" width="14" height="10" fill="#ff2525"/>
<rect x="453" y="724" width="14" height="10" fill="#ff0700"/>
<rect x="453" y="713" width="14" height="11" fill="#ff3500"/>
<rect x="453" y="702" width="14" height="11" fill="#ff6800"/>
<rect x="453" y="690" width="14" height="12" fill="#ffaa00"/>
<rect x="453" y="677" width="14" height="13" fill="#ffd200"/>
<rect x="453" y="663" width="14" height="14" fill="#ccff00"/>
<rect x="453" y="648" width="14" height="15" fill="#66ff00"/>
<rect x="453" y="633" width="14" height="15" fill="#00cc33"/>
<rect x="453" y="131" width="14" height="502" fill="#c080ff"/>
<rect x="467" y="798" width="14" height="11" fill="#e6adad"/>
<rect x="467" y="791" width="14" height="7" fill="#e6aeae"/>
<rect x="467" y="784" width="14" height="7" fill="#e8afaf"/>
<rect x="467" y="777" width="14" height="7" fill="#ebb1b1"/>
<rect x="467" y="769" width="14" height="8" fill="#eeb3b3"/>
<rect x="467" y="761" width="14" height="8" fill="#f2b6b6"/>
<rect x="467" y="753" width="14" height="8" fill="#f6b9b9"/>
<rect x="467" y="744" width="14" height="9" fill="#fabcbc"/>
<rect x="467" y="734" width="14" height="10" fill="#ffc0c0"/>
<rect x="467" y="724" width="14" height="10" fill="#ffb7b7"/>
<rect x="467" y="713" width="14" height="11" fill="#ffaaaa"/>
<rect x="467" y="702" width="14" height="11" fill="#ff9999"/>
<rect x="467" y="690" width="14" height="12" fill="#ff8686"/>
<rect x="467" y="677" width="14" height="13" fill="#ff7171"/>
<rect x="467" y="663" width="14" height="14" fill="#ff5d5d"/>
<rect x="467" y="648" width="14" height="15" fill="#ff4747"/>
<rect x="467" y="633" width="14" height="15" fill="#ff2222"/>
<rect x="467" y="617" width="14" height="16" fill="#ff0800"/>
<rect x="467" y="600" width="14" height="17" fill="#ff3500"/>
<rect x="467" y="581" width="14" height="19" fill="#ff6800"/>
<rect x="467" y="562" width="14" height="19" fill="#ffaa00"/>
<rect x="467" y="542" width="14" height="20" fill="#ffd200"/>
<rect x="467" y="520" width="14" height="22" fill="#ccff00"/>
<rect x="467" y="497" width="14" height="23" fill="#00cc33"/>
<rect x="467" y="131" width="14" height="366" fill="#c080ff"/>
<rect x="481" y="724" width="14" height="85" fill="#e6adad"/>
<rect x="481" y="713" width="14" height="11" fill="#e6aeae"/>
<rect x="481" y="702" width="14" height="11" fill="#e8afaf"/>
<rect x="481" y="690" width="14" height="12" fill="#ebb1b1"/>
<rect x="481" y="677" width="14" height="13" fill="#f0b5b5"/>
<rect x="481" y="663" width="14" height="14" fill="#f7baba"/>
<rect x="481" y="648" width="14" height="15" fill="#ffc0c0"/>
<rect x="481" y="633" width="14" height="15" fill="#ffaeae"/>
<rect x="481" y="617" width="14" height="16" fill="#ff9595"/>
<rect x="481" y="600" width="14" height="17" fill="#ff7777"/>
<rect x="481" y="581" width="14" height="19" fill="#ff4b4b"/>
<rect x="481" y="562" width="14" height="19" fill="#ff1717"/>
<rect x="481" y="542" width="14" height="20" fill="#ff2900"/>
<rect x="481" y="520" width="14" height="22" fill="#ff6800"/>
<rect x="481" y="497" width="14" height="23" fill="#ffc100"/>
<rect x="481" y="472" width="14" height="25" fill="#ffff00"/>
<rect x="481" y="446" width="14" height="26" fill="#00cc33"/>
<rect x="481" y="131" width="14" height="315" fill="#c080ff"/>
<rect x="495" y="804" width="14" height="5" fill="#dea7a7"/>
<rect x="495" y="798" width="14" height="6" fill="#dfa8a8"/>
<rect x="495" y="791" width="14" height="7" fill="#e1a9a9"/>
<rect x="495" y="784" width="14" height="7" fill="#e2aaaa"/>
<rect x="495" y="777" width="14" height="7" fill="#e4abab"/>
<rect x="495" y="769" width="14" height="8" fill="#e5acac"/>
<rect x="495" y="761" width="14" height="8" fill="#e6adad"/>
<rect x="495" y="753" width="14" height="8" fill="#e8afaf"/>
<rect x="495" y="744" width="14" height="9" fill="#e9b0b0"/>
<rect x="495" y="734" width="14" height="10" fill="#ebb1b1"/>
<rect x="495" y="724" width="14" height="10" fill="#edb2b2"/>
<rect x="495" y="713" width="14" height="11" fill="#efb4b4"/>
<rect x="495" y="702" width="14" height="11" fill="#f1b6b6"/>
<rect x="495" y="690" width="14" height="12" fill="#f4b7b7"/>
<rect x="495" y="677" width="14" height="13" fill="#f6b9b9"/>
<rect x="495" y="663" width="14" height="14" fill="#f8bbbb"/>
<rect x="495" y="648" width="14" height="15" fill="#fabdbd"/>
<rect x="495" y="633" width="14" height="15" fill="#fdbebe"/>
<rect x="495" y="581" width="14" height="52" fill="#ffc0c0"/>
<rect x="495" y="562" width="14" height="19" fill="#ff9090"/>
<rect x="495" y="542" width="14" height="20" fill="#ff6060"/>
<rect x="495" y="520" width="14" height="22" fill="#ff3030"/>
<rect x="495" y="497" width="14" height="23" fill="#ff0000"/>
<rect x="495" y="472" width="14" height="25" fill="#ff5200"/>
<rect x="495" y="446" width="14" height="26" fill="#ffa500"/>
<rect x="495" y="419" width="14" height="27" fill="#ffd200"/>
<rect x="495" y="390" width="14" height="29" fill="#ccff00"/>
<rect x="495" y="359" width="14" height="31" fill="#00cc33"/>
<rect x="495" y="131" width="14" height="228" fill="#c080ff"/>
<rect x="509" y="804" width="14" height="5" fill="#c99898"/>
<rect x="509" y="784" width="14" height="20" fill="#ca9898"/>
<rect x="509" y="753" width="14" height="31" fill="#cb9999"/>
<rect x="509" y="744" width="14" height="9" fill="#cc9999"/>
<rect x="509" y="724" width="14" height="20" fill="#cc9a9a"/>
<rect x="509" y="690" width="14" height="34" fill="#cd9a9a"/>
<rect x="509" y="677" width="14" height="13" fill="#cd9b9b"/>
<rect x="509" y="633" width="14" height="44" fill="#ce9b9b"/>
<rect x="509" y="617" width="14" height="16" fill="#cf9c9c"/>
<rect x="509" y="600" width="14" height="17" fill="#d9a3a3"/>
<rect x="509" y="562" width="14" height="38" fill="#e6adad"/>
<rect x="509" y="542" width="14" height="20" fill="#f2b6b6"/>
<rect x="509" y="497" width="14" height="45" fill="#ffc0c0"/>
<rect x="509" y="472" width="14" height="25" fill="#ff9090"/>
<rect x="509" y="446" width="14" height="26" fill="#ff6060"/>
<rect x="509" y="419" width="14" height="27" fill="#ff3030"/>
<rect x="509" y="390" width="14" height="29" fill="#ff2900"/>
<rect x="509" y="359" width="14" height="31" fill="#ff5200"/>
<rect x="509" y="327" width="14" height="32" fill="#ffbc00"/>
<rect x="509" y="292" width="14" height="35" fill="#ffff00"/>
<rect x="509" y="255" width="14" height="37" fill="#00cc33"/>
<rect x="509" y="131" width="14" height="124" fill="#c080ff"/>
<rect x="523" y="804" width="15" height="5" fill="#c49494"/>
<rect x="523" y="798" width="15" height="6" fill="#bf9090"/>
<rect x="523" y="791" width="15" height="7" fill="#ba8c8c"/>
<rect x="523" y="784" width="15" height="7" fill="#b78a8a"/>
<rect x="523" y="777" width="15" height="7" fill="#b38787"/>
<rect x="523" y="769" width="15" height="8" fill="#b08484"/>
<rect x="523" y="761" width="15" height="8" fill="#ae8383"/>
<rect x="523" y="753" width="15" height="8" fill="#ab8181"/>
<rect x="523" y="744" width="15" height="9" fill="#a97f7f"/>
<rect x="523" y="734" width="15" height="10" fill="#a77e7e"/>
<rect x="523" y="724" width="15" height="10" fill="#a57c7c"/>
<rect x="523" y="713" width="15" height="11" fill="#a37b7b"/>
<rect x="523" y="677" width="15" height="36" fill="#a17979"/>
<rect x="523" y="663" width="15" height="14" fill="#a17a7a"/>
<rect x="523" y="617" width="15" height="46" fill="#a27a7a"/>
<rect x="523" y="600" width="15" height="17" fill="#a37a7a"/>
<rect x="523" y="562" width="15" height="38" fill="#a37b7b"/>
<rect x="523" y="542" width="15" height="20" fill="#ab8181"/>
<rect x="523" y="520" width="15" height="22" fill="#b08484"/>
<rect x="523" y="497" width="15" height="23" fill="#b58888"/>
<rect x="523" y="472" width="15" height="25" fill="#bf9090"/>
<rect x="523" y="446" width="15" height="26" fill="#c99898"/>
<rect x="523" y="419" width="15" height="27" fill="#d49f9f"/>
<rect x="523" y="390" width="15" height="29" fill="#e3abab"/>
<rect x="523" y="359" width="15" height="31" fill="#f5b8b8"/>
<rect x="523" y="327" width="15" height="32" fill="#ffc0c0"/>
<rect x="523" y="292" width="15" height="35" fill="#ff9090"/>
<rect x="523" y="255" width="15" height="37" fill="#ff3030"/>
<rect x="523" y="216" width="15" height="39" fill="#ff0000"/>
<rect x="523" y="175" width="15" height="41" fill="#ff5200"/>
<rect x="523" y="131" width="15" height="44" fill="#ffd200"/>
<rect x="538" y="804" width="14" height="5" fill="#a17979"/>
<rect x="538" y="798" width="14" height="6" fill="#a07878"/>
<rect x="538" y="791" width="14" height="7" fill="#9e7777"/>
<rect x="538" y="784" width="14" height="7" fill="#9d7676"/>
<rect x="538" y="777" width="14" height="7" fill="#9c7676"/>
<rect x="538" y="769" width="14" height="8" fill="#9b7575"/>
<rect x="538" y="761" width="14" height="8" fill="#9a7474"/>
<rect x="538" y="753" width="14" height="8" fill="#997373"/>
<rect x="538" y="744" width="14" height="9" fill="#987272"/>
<rect x="538" y="734" width="14" height="10" fill="#967171"/>
<rect x="538" y="724" width="14" height="10" fill="#957070"/>
<rect x="538" y="713" width="14" height="11" fill="#947070"/>
<rect x="538" y="702" width="14" height="11" fill="#936f6f"/>
<rect x="538" y="690" width="14" height="12" fill="#926e6e"/>
<rect x="538" y="677" width="14" height="13" fill="#916d6d"/>
<rect x="538" y="663" width="14" height="14" fill="#906c6c"/>
<rect x="538" y="648" width="14" height="15" fill="#8f6b6b"/>
<rect x="538" y="633" width="14" height="15" fill="#8d6a6a"/>
<rect x="538" y="581" width="14" height="52" fill="#8c6a6a"/>
<rect x="538" y="562" width="14" height="19" fill="#906c6c"/>
<rect x="538" y="542" width="14" height="20" fill="#936f6f"/>
<rect x="538" y="520" width="14" height="22" fill="#967171"/>
<rect x="538" y="497" width="14" height="23" fill="#9c7575"/>
<rect x="538" y="472" width="14" height="25" fill="#a37b7b"/>
<rect x="538" y="446" width="14" height="26" fill="#ac8282"/>
<rect x="538" y="419" width="14" height="27" fill="#b58888"/>
<rect x="538" y="390" width="14" height="29" fill="#c49494"/>
<rect x="538" y="359" width="14" height="31" fill="#d49f9f"/>
<rect x="538" y="327" width="14" height="32" fill="#edb3b3"/>
<rect x="538" y="292" width="14" height="35" fill="#ffc0c0"/>
<rect x="538" y="255" width="14" height="37" fill="#ff6060"/>
<rect x="538" y="216" width="14" height="39" fill="#ff0000"/>
<rect x="538" y="175" width="14" height="41" fill="#ff5200"/>
<rect x="538" y="131" width="14" height="44" fill="#ffbc00"/>
<rect x="552" y="804" width="14" height="5" fill="#a17979"/>
<rect x="552" y="798" width="14" height="6" fill="#9e7777"/>
<rect x="552" y="791" width="14" height="7" fill="#9c7575"/>
<rect x="552" y="784" width="14" height="7" fill="#997373"/>
<rect x="552" y="777" width="14" height="7" fill="#967171"/>
<rect x="552" y="769" width="14" height="8" fill="#946f6f"/>
<rect x="552" y="761" width="14" height="8" fill="#916d6d"/>
<rect x="552" y="753" width="14" height="8" fill="#8f6c6c"/>
<rect x="552" y="744" width="14" height="9" fill="#8c6a6a"/>
<rect x="552" y="734" width="14" height="10" fill="#8a6868"/>
<rect x="552" y="724" width="14" height="10" fill="#886666"/>
<rect x="552" y="713" width="14" height="11" fill="#866565"/>
<rect x="552" y="702" width="14" height="11" fill="#846363"/>
<rect x="552" y="690" width="14" height="12" fill="#826262"/>
<rect x="552" y="677" width="14" height="13" fill="#806060"/>
<rect x="552" y="663" width="14" height="14" fill="#7e5f5f"/>
<rect x="552" y="648" width="14" height="15" fill="#7c5d5d"/>
<rect x="552" y="633" width="14" height="15" fill="#7a5c5c"/>
<rect x="552" y="617" width="14" height="16" fill="#785a5a"/>
<rect x="552" y="472" width="14" height="145" fill="#755858"/>
<rect x="552" y="446" width="14" height="26" fill="#7d5e5e"/>
<rect x="552" y="419" width="14" height="27" fill="#806060"/>
<rect x="552" y="390" width="14" height="29" fill="#876666"/>
<rect x="552" y="359" width="14" height="31" fill="#8f6c6c"/>
<rect x="552" y="327" width="14" height="32" fill="#997373"/>
<rect x="552" y="292" width="14" height="35" fill="#a87f7f"/>
<rect x="552" y="255" width="14" height="37" fill="#b88a8a"/>
<rect x="552" y="216" width="14" height="39" fill="#cc9a9a"/>
<rect x="552" y="175" width="14" height="41" fill="#e6adad"/>
<rect x="552" y="131" width="14" height="44" fill="#ffc0c0"/>
<rect x="566" y="804" width="14" height="5" fill="#997373"/>
<rect x="566" y="798" width="14" height="6" fill="#987373"/>
<rect x="566" y="791" width="14" height="7" fill="#987272"/>
<rect x="566" y="784" width="14" height="7" fill="#977272"/>
<rect x="566" y="777" width="14" height="7" fill="#967171"/>
<rect x="566" y="769" width="14" height="8" fill="#946f6f"/>
<rect x="566" y="761" width="14" height="8" fill="#916d6d"/>
<rect x="566" y="753" width="14" height="8" fill="#8f6c6c"/>
<rect x="566" y="744" width="14" height="9" fill="#8c6a6a"/>
<rect x="566" y="734" width="14" height="10" fill="#866565"/>
<rect x="566" y="724" width="14" height="10" fill="#806161"/>
<rect x="566" y="713" width="14" height="11" fill="#7a5c5c"/>
<rect x="566" y="702" width="14" height="11" fill="#715555"/>
<rect x="566" y="690" width="14" height="12" fill="#694f4f"/>
<rect x="566" y="677" width="14" height="13" fill="#634b4b"/>
<rect x="566" y="663" width="14" height="14" fill="#5d4646"/>
<rect x="566" y="648" width="14" height="15" fill="#584242"/>
<rect x="566" y="633" width="14" height="15" fill="#523d3d"/>
<rect x="566" y="617" width="14" height="16" fill="#4f3c3c"/>
<rect x="566" y="600" width="14" height="17" fill="#473636"/>
<rect x="566" y="542" width="14" height="58" fill="#423232"/>
<rect x="566" y="419" width="14" height="123" fill="#3c2d2d"/>
<rect x="566" y="390" width="14" height="29" fill="#403030"/>
<rect x="566" y="359" width="14" height="31" fill="#453434"/>
<rect x="566" y="327" width="14" height="32" fill="#4d3a3a"/>
<rect x="566" y="292" width="14" height="35" fill="#523d3d"/>
<rect x="566" y="255" width="14" height="37" fill="#5c4545"/>
<rect x="566" y="216" width="14" height="39" fill="#6b5151"/>
<rect x="566" y="175" width="14" height="41" fill="#785a5a"/>
<rect x="566" y="131" width="14" height="44" fill="#876666"/>
<rect x="580" y="804" width="14" height="5" fill="#574141"/>
<rect x="580" y="798" width="14" height="6" fill="#6e5353"/>
<rect x="580" y="769" width="14" height="29" fill="#6d5252"/>
<rect x="580" y="744" width="14" height="25" fill="#6c5151"/>
<rect x="580" y="724" width="14" height="20" fill="#6b5151"/>
<rect x="580" y="713" width="14" height="11" fill="#694f4f"/>
<rect x="580" y="702" width="14" height="11" fill="#664d4d"/>
<rect x="580" y="690" width="14" height="12" fill="#634b4b"/>
<rect x="580" y="677" width="14" height="13" fill="#614949"/>
<rect x="580" y="663" width="14" height="14" fill="#5c4646"/>
<rect x="580" y="648" width="14" height="15" fill="#584242"/>
<rect x="580" y="633" width="14" height="15" fill="#543f3f"/>
<rect x="580" y="617" width="14" height="16" fill="#4f3c3c"/>
<rect x="580" y="600" width="14" height="17" fill="#4d3a3a"/>
<rect x="580" y="581" width="14" height="19" fill="#4b3838"/>
<rect x="580" y="562" width="14" height="19" fill="#493737"/>
<rect x="580" y="542" width="14" height="20" fill="#473535"/>
<rect x="580" y="520" width="14" height="22" fill="#443434"/>
<rect x="580" y="497" width="14" height="23" fill="#423232"/>
<rect x="580" y="472" width="14" height="25" fill="#403030"/>
<rect x="580" y="446" width="14" height="26" fill="#3e2f2f"/>
<rect x="580" y="419" width="14" height="27" fill="#3c2d2d"/>
<rect x="580" y="390" width="14" height="29" fill="#3d2e2e"/>
<rect x="580" y="359" width="14" height="31" fill="#403030"/>
<rect x="580" y="327" width="14" height="32" fill="#453434"/>
<rect x="580" y="292" width="14" height="35" fill="#473636"/>
<rect x="580" y="255" width="14" height="37" fill="#4d3a3a"/>
<rect x="580" y="216" width="14" height="39" fill="#523d3d"/>
<rect x="580" y="175" width="14" height="41" fill="#574141"/>
<rect x="580" y="131" width="14" height="44" fill="#5c4545"/>
<rect x="594" y="804" width="14" height="5" fill="#473636"/>
<rect x="594" y="798" width="14" height="6" fill="#594343"/>
<rect x="594" y="791" width="14" height="7" fill="#5b4444"/>
<rect x="594" y="784" width="14" height="7" fill="#5c4545"/>
<rect x="594" y="777" width="14" height="7" fill="#5d4646"/>
<rect x="594" y="769" width="14" height="8" fill="#5e4747"/>
<rect x="594" y="761" width="14" height="8" fill="#604848"/>
<rect x="594" y="753" width="14" height="8" fill="#614949"/>
<rect x="594" y="744" width="14" height="9" fill="#624a4a"/>
<rect x="594" y="562" width="14" height="182" fill="#634b4b"/>
<rect x="594" y="446" width="14" height="116" fill="#6e5353"/>
<rect x="594" y="419" width="14" height="27" fill="#745757"/>
<rect x="594" y="390" width="14" height="29" fill="#785a5a"/>
<rect x="594" y="359" width="14" height="31" fill="#7d5e5e"/>
<rect x="594" y="327" width="14" height="32" fill="#7e5f5f"/>
<rect x="594" y="216" width="14" height="111" fill="#806060"/>
<rect x="594" y="175" width="14" height="41" fill="#7d5e5e"/>
<rect x="594" y="131" width="14" height="44" fill="#785a5a"/>
<rect x="608" y="804" width="14" height="5" fill="#3c2d2d"/>
<rect x="608" y="798" width="14" height="6" fill="#3d2e2e"/>
<rect x="608" y="791" width="14" height="7" fill="#3e2f2f"/>
<rect x="608" y="784" width="14" height="7" fill="#403030"/>
<rect x="608" y="777" width="14" height="7" fill="#413131"/>
<rect x="608" y="769" width="14" height="8" fill="#423232"/>
<rect x="608" y="761" width="14" height="8" fill="#443333"/>
<rect x="608" y="753" width="14" height="8" fill="#453434"/>
<rect x="608" y="744" width="14" height="9" fill="#463535"/>
<rect x="608" y="734" width="14" height="10" fill="#473636"/>
<rect x="608" y="724" width="14" height="10" fill="#493737"/>
<rect x="608" y="713" width="14" height="11" fill="#4a3838"/>
<rect x="608" y="702" width="14" height="11" fill="#4c3939"/>
<rect x="608" y="690" width="14" height="12" fill="#4d3a3a"/>
<rect x="608" y="677" width="14" height="13" fill="#4e3b3b"/>
<rect x="608" y="663" width="14" height="14" fill="#503c3c"/>
<rect x="608" y="648" width="14" height="15" fill="#513d3d"/>
<rect x="608" y="633" width="14" height="15" fill="#533e3e"/>
<rect x="608" y="617" width="14" height="16" fill="#543f3f"/>
<rect x="608" y="600" width="14" height="17" fill="#584242"/>
<rect x="608" y="581" width="14" height="19" fill="#5c4545"/>
<rect x="608" y="562" width="14" height="19" fill="#614949"/>
<rect x="608" y="542" width="14" height="20" fill="#634b4b"/>
<rect x="608" y="520" width="14" height="22" fill="#6b5151"/>
<rect x="608" y="497" width="14" height="23" fill="#705454"/>
<rect x="608" y="472" width="14" height="25" fill="#785a5a"/>
<rect x="608" y="446" width="14" height="26" fill="#806060"/>
<rect x="608" y="419" width="14" height="27" fill="#8c6a6a"/>
<rect x="608" y="390" width="14" height="29" fill="#997373"/>
<rect x="608" y="359" width="14" height="31" fill="#a87f7f"/>
<rect x="608" y="327" width="14" height="32" fill="#b88a8a"/>
<rect x="608" y="292" width="14" height="35" fill="#cc9a9a"/>
<rect x="608" y="255" width="14" height="37" fill="#e3abab"/>
<rect x="608" y="216" width="14" height="39" fill="#f0b4b4"/>
<rect x="608" y="175" width="14" height="41" fill="#f5b8b8"/>
<rect x="608" y="131" width="14" height="44" fill="#f0b4b4"/>
<rect x="622" y="804" width="14" height="5" fill="#241b1b"/>
<rect x="622" y="791" width="14" height="13" fill="#382a2a"/>
<rect x="622" y="769" width="14" height="22" fill="#392b2b"/>
<rect x="622" y="753" width="14" height="16" fill="#3a2c2c"/>
<rect x="622" y="734" width="14" height="19" fill="#3b2c2c"/>
<rect x="622" y="724" width="14" height="10" fill="#3b2d2d"/>
<rect x="622" y="690" width="14" height="34" fill="#3c2d2d"/>
<rect x="622" y="648" width="14" height="42" fill="#3d2e2e"/>
<rect x="622" y="633" width="14" height="15" fill="#3e2e2e"/>
<rect x="622" y="617" width="14" height="16" fill="#3e2f2f"/>
<rect x="622" y="600" width="14" height="17" fill="#403030"/>
<rect x="622" y="520" width="14" height="80" fill="#453434"/>
<rect x="622" y="497" width="14" height="23" fill="#4a3838"/>
<rect x="622" y="472" width="14" height="25" fill="#4f3c3c"/>
<rect x="622" y="446" width="14" height="26" fill="#543f3f"/>
<rect x="622" y="419" width="14" height="27" fill="#584242"/>
<rect x="622" y="390" width="14" height="29" fill="#5c4545"/>
<rect x="622" y="359" width="14" height="31" fill="#624a4a"/>
<rect x="622" y="327" width="14" height="32" fill="#694f4f"/>
<rect x="622" y="292" width="14" height="35" fill="#705454"/>
<rect x="622" y="255" width="14" height="37" fill="#7d5e5e"/>
<rect x="622" y="216" width="14" height="39" fill="#876666"/>
<rect x="622" y="175" width="14" height="41" fill="#906c6c"/>
<rect x="622" y="131" width="14" height="44" fill="#a17979"/>
<rect x="636" y="804" width="14" height="5" fill="#241b1b"/>
<rect x="636" y="798" width="14" height="6" fill="#2b2121"/>
<rect x="636" y="784" width="14" height="14" fill="#332626"/>
<rect x="636" y="744" width="14" height="40" fill="#332727"/>
<rect x="636" y="617" width="14" height="127" fill="#342727"/>
<rect x="636" y="600" width="14" height="17" fill="#352828"/>
<rect x="636" y="581" width="14" height="19" fill="#362929"/>
<rect x="636" y="562" width="14" height="19" fill="#372a2a"/>
<rect x="636" y="542" width="14" height="20" fill="#382a2a"/>
<rect x="636" y="520" width="14" height="22" fill="#392b2b"/>
<rect x="636" y="497" width="14" height="23" fill="#3a2b2b"/>
<rect x="636" y="472" width="14" height="25" fill="#3a2c2c"/>
<rect x="636" y="446" width="14" height="26" fill="#3b2d2d"/>
<rect x="636" y="419" width="14" height="27" fill="#3c2d2d"/>
<rect x="636" y="390" width="14" height="29" fill="#403030"/>
<rect x="636" y="359" width="14" height="31" fill="#453434"/>
<rect x="636" y="327" width="14" height="32" fill="#4a3838"/>
<rect x="636" y="292" width="14" height="35" fill="#4f3c3c"/>
<rect x="636" y="255" width="14" height="37" fill="#584242"/>
<rect x="636" y="216" width="14" height="39" fill="#614949"/>
<rect x="636" y="175" width="14" height="41" fill="#6b5151"/>
<rect x="636" y="131" width="14" height="44" fill="#785a5a"/>
<rect x="650" y="804" width="14" height="5" fill="#291f1f"/>
<rect x="650" y="798" width="14" height="6" fill="#2f2424"/>
<rect x="650" y="784" width="14" height="14" fill="#362828"/>
<rect x="650" y="753" width="14" height="31" fill="#362929"/>
<rect x="650" y="713" width="14" height="40" fill="#372929"/>
<rect x="650" y="677" width="14" height="36" fill="#372a2a"/>
<rect x="650" y="617" width="14" height="60" fill="#382a2a"/>
<rect x="650" y="600" width="14" height="17" fill="#392b2b"/>
<rect x="650" y="581" width="14" height="19" fill="#3a2c2c"/>
<rect x="650" y="562" width="14" height="19" fill="#3b2c2c"/>
<rect x="650" y="542" width="14" height="20" fill="#3c2d2d"/>
<rect x="650" y="520" width="14" height="22" fill="#403030"/>
<rect x="650" y="497" width="14" height="23" fill="#423232"/>
<rect x="650" y="472" width="14" height="25" fill="#463535"/>
<rect x="650" y="446" width="14" height="26" fill="#4d3a3a"/>
<rect x="650" y="419" width="14" height="27" fill="#4f3c3c"/>
<rect x="650" y="390" width="14" height="29" fill="#574141"/>
<rect x="650" y="359" width="14" height="31" fill="#5c4545"/>
<rect x="650" y="327" width="14" height="32" fill="#634b4b"/>
<rect x="650" y="292" width="14" height="35" fill="#705454"/>
<rect x="650" y="255" width="14" height="37" fill="#7d5e5e"/>
<rect x="650" y="216" width="14" height="39" fill="#8c6a6a"/>
<rect x="650" y="175" width="14" height="41" fill="#9c7575"/>
<rect x="650" y="131" width="14" height="44" fill="#b58888"/>
<rect x="664" y="804" width="14" height="5" fill="#291f1f"/>
<rect x="664" y="798" width="14" height="6" fill="#322525"/>
<rect x="664" y="784" width="14" height="14" fill="#3b2c2c"/>
<rect x="664" y="777" width="14" height="7" fill="#3b2d2d"/>
<rect x="664" y="753" width="14" height="24" fill="#3c2d2d"/>
<rect x="664" y="724" width="14" height="29" fill="#3d2e2e"/>
<rect x="664" y="713" width="14" height="11" fill="#3e2e2e"/>
<rect x="664" y="677" width="14" height="36" fill="#3e2f2f"/>
<rect x="664" y="663" width="14" height="14" fill="#3f2f2f"/>
<rect x="664" y="633" width="14" height="30" fill="#3f3030"/>
<rect x="664" y="617" width="14" height="16" fill="#403030"/>
<rect x="664" y="600" width="14" height="17" fill="#453434"/>
<rect x="664" y="581" width="14" height="19" fill="#473636"/>
<rect x="664" y="562" width="14" height="19" fill="#4d3a3a"/>
<rect x="664" y="542" width="14" height="20" fill="#523d3d"/>
<rect x="664" y="520" width="14" height="22" fill="#584242"/>
<rect x="664" y="497" width="14" height="23" fill="#614949"/>
<rect x="664" y="472" width="14" height="25" fill="#694f4f"/>
<rect x="664" y="446" width="14" height="26" fill="#705454"/>
<rect x="664" y="419" width="14" height="27" fill="#785a5a"/>
<rect x="664" y="390" width="14" height="29" fill="#866565"/>
<rect x="664" y="359" width="14" height="31" fill="#946f6f"/>
<rect x="664" y="327" width="14" height="32" fill="#a37b7b"/>
<rect x="664" y="292" width="14" height="35" fill="#ba8c8c"/>
<rect x="664" y="255" width="14" height="37" fill="#d49f9f"/>
<rect x="664" y="216" width="14" height="39" fill="#f0b4b4"/>
<rect x="664" y="175" width="14" height="41" fill="#ffa3a3"/>
<rect x="664" y="131" width="14" height="44" fill="#ff4d4d"/>
<rect x="678" y="804" width="14" height="5" fill="#3c2d2d"/>
<rect x="678" y="791" width="14" height="13" fill="#3d2e2e"/>
<rect x="678" y="784" width="14" height="7" fill="#3e2f2f"/>
<rect x="678" y="777" width="14" height="7" fill="#3f2f2f"/>
<rect x="678" y="769" width="14" height="8" fill="#3f3030"/>
<rect x="678" y="761" width="14" height="8" fill="#403030"/>
<rect x="678" y="753" width="14" height="8" fill="#413131"/>
<rect x="678" y="744" width="14" height="9" fill="#423131"/>
<rect x="678" y="734" width="14" height="10" fill="#423232"/>
<rect x="678" y="724" width="14" height="10" fill="#433333"/>
<rect x="678" y="713" width="14" height="11" fill="#453434"/>
<rect x="678" y="702" width="14" height="11" fill="#463434"/>
<rect x="678" y="690" width="14" height="12" fill="#473535"/>
<rect x="678" y="677" width="14" height="13" fill="#483636"/>
<rect x="678" y="663" width="14" height="14" fill="#493737"/>
<rect x="678" y="648" width="14" height="15" fill="#4a3838"/>
<rect x="678" y="633" width="14" height="15" fill="#4b3939"/>
<rect x="678" y="617" width="14" height="16" fill="#4d3a3a"/>
<rect x="678" y="600" width="14" height="17" fill="#4f3c3c"/>
<rect x="678" y="581" width="14" height="19" fill="#543f3f"/>
<rect x="678" y="562" width="14" height="19" fill="#584242"/>
<rect x="678" y="542" width="14" height="20" fill="#5e4747"/>
<rect x="678" y="520" width="14" height="22" fill="#634b4b"/>
<rect x="678" y="497" width="14" height="23" fill="#6e5353"/>
<rect x="678" y="472" width="14" height="25" fill="#755858"/>
<rect x="678" y="446" width="14" height="26" fill="#806060"/>
<rect x="678" y="419" width="14" height="27" fill="#8c6a6a"/>
<rect x="678" y="390" width="14" height="29" fill="#9c7575"/>
<rect x="678" y="359" width="14" height="31" fill="#b08484"/>
<rect x="678" y="327" width="14" height="32" fill="#c89797"/>
<rect x="678" y="292" width="14" height="35" fill="#f0b4b4"/>
<rect x="678" y="255" width="14" height="37" fill="#ff9090"/>
<rect x="678" y="216" width="14" height="39" fill="#ff0000"/>
<rect x="678" y="175" width="14" height="41" fill="#ff7c00"/>
<rect x="678" y="131" width="14" height="44" fill="#ffff00"/>
<rect x="692" y="804" width="14" height="5" fill="#594343"/>
<rect x="692" y="798" width="14" height="6" fill="#5a4444"/>
<rect x="692" y="791" width="14" height="7" fill="#5b4444"/>
<rect x="692" y="784" width="14" height="7" fill="#5c4545"/>
<rect x="692" y="769" width="14" height="15" fill="#5d4646"/>
<rect x="692" y="761" width="14" height="8" fill="#5e4747"/>
<rect x="692" y="753" width="14" height="8" fill="#5f4848"/>
<rect x="692" y="744" width="14" height="9" fill="#604848"/>
<rect x="692" y="734" width="14" height="10" fill="#614949"/>
<rect x="692" y="724" width="14" height="10" fill="#624a4a"/>
<rect x="692" y="713" width="14" height="11" fill="#634a4a"/>
<rect x="692" y="702" width="14" height="11" fill="#634b4b"/>
<rect x="692" y="690" width="14" height="12" fill="#644c4c"/>
<rect x="692" y="677" width="14" height="13" fill="#654c4c"/>
<rect x="692" y="663" width="14" height="14" fill="#664d4d"/>
<rect x="692" y="648" width="14" height="15" fill="#674d4d"/>
<rect x="692" y="633" width="14" height="15" fill="#684e4e"/>
<rect x="692" y="617" width="14" height="16" fill="#694f4f"/>
<rect x="692" y="600" width="14" height="17" fill="#6b5151"/>
<rect x="692" y="581" width="14" height="19" fill="#6e5353"/>
<rect x="692" y="562" width="14" height="19" fill="#735656"/>
<rect x="692" y="542" width="14" height="20" fill="#755858"/>
<rect x="692" y="520" width="14" height="22" fill="#7a5c5c"/>
<rect x="692" y="497" width="14" height="23" fill="#806060"/>
<rect x="692" y="472" width="14" height="25" fill="#876666"/>
<rect x="692" y="446" width="14" height="26" fill="#906c6c"/>
<rect x="692" y="419" width="14" height="27" fill="#9c7575"/>
<rect x="692" y="390" width="14" height="29" fill="#ab8181"/>
<rect x="692" y="359" width="14" height="31" fill="#be8f8f"/>
<rect x="692" y="327" width="14" height="32" fill="#d9a3a3"/>
<rect x="692" y="292" width="14" height="35" fill="#ffc0c0"/>
<rect x="692" y="255" width="14" height="37" fill="#ff7373"/>
<rect x="692" y="216" width="14" height="39" fill="#ff0000"/>
<rect x="692" y="175" width="14" height="41" fill="#ff8400"/>
<rect x="692" y="131" width="14" height="44" fill="#ffff00"/>
<rect x="706" y="804" width="14" height="5" fill="#785a5a"/>
<rect x="706" y="798" width="14" height="6" fill="#795b5b"/>
<rect x="706" y="784" width="14" height="14" fill="#7a5c5c"/>
<rect x="706" y="777" width="14" height="7" fill="#7b5d5d"/>
<rect x="706" y="769" width="14" height="8" fill="#7c5d5d"/>
<rect x="706" y="761" width="14" height="8" fill="#7d5e5e"/>
<rect x="706" y="753" width="14" height="8" fill="#7e5f5f"/>
<rect x="706" y="744" width="14" height="9" fill="#7f5f5f"/>
<rect x="706" y="734" width="14" height="10" fill="#806060"/>
<rect x="706" y="724" width="14" height="10" fill="#806161"/>
<rect x="706" y="713" width="14" height="11" fill="#816161"/>
<rect x="706" y="702" width="14" height="11" fill="#826262"/>
<rect x="706" y="690" width="14" height="12" fill="#836363"/>
<rect x="706" y="677" width="14" height="13" fill="#846363"/>
<rect x="706" y="648" width="14" height="29" fill="#856464"/>
<rect x="706" y="633" width="14" height="15" fill="#866565"/>
<rect x="706" y="617" width="14" height="16" fill="#876666"/>
<rect x="706" y="600" width="14" height="17" fill="#8a6868"/>
<rect x="706" y="581" width="14" height="19" fill="#8c6a6a"/>
<rect x="706" y="562" width="14" height="19" fill="#8e6b6b"/>
<rect x="706" y="542" width="14" height="20" fill="#906c6c"/>
<rect x="706" y="520" width="14" height="22" fill="#957070"/>
<rect x="706" y="497" width="14" height="23" fill="#997373"/>
<rect x="706" y="472" width="14" height="25" fill="#9c7575"/>
<rect x="706" y="446" width="14" height="26" fill="#9e7777"/>
<rect x="706" y="419" width="14" height="27" fill="#a17979"/>
<rect x="706" y="390" width="14" height="29" fill="#a37a7a"/>
<rect x="706" y="359" width="14" height="31" fill="#a47c7c"/>
<rect x="706" y="327" width="14" height="32" fill="#a67d7d"/>
<rect x="706" y="292" width="14" height="35" fill="#a87f7f"/>
<rect x="706" y="255" width="14" height="37" fill="#aa8080"/>
<rect x="706" y="216" width="14" height="39" fill="#ac8282"/>
<rect x="706" y="175" width="14" height="41" fill="#b08484"/>
<rect x="706" y="131" width="14" height="44" fill="#b58888"/>
<rect x="720" y="804" width="14" height="5" fill="#8c6a6a"/>
<rect x="720" y="798" width="14" height="6" fill="#8a6868"/>
<rect x="720" y="791" width="14" height="7" fill="#886767"/>
<rect x="720" y="784" width="14" height="7" fill="#866565"/>
<rect x="720" y="777" width="14" height="7" fill="#846363"/>
<rect x="720" y="769" width="14" height="8" fill="#826262"/>
<rect x="720" y="761" width="14" height="8" fill="#816161"/>
<rect x="720" y="753" width="14" height="8" fill="#806060"/>
<rect x="720" y="744" width="14" height="9" fill="#7e5f5f"/>
<rect x="720" y="734" width="14" height="10" fill="#7d5e5e"/>
<rect x="720" y="724" width="14" height="10" fill="#7c5d5d"/>
<rect x="720" y="713" width="14" height="11" fill="#7b5d5d"/>
<rect x="720" y="690" width="14" height="23" fill="#7a5c5c"/>
<rect x="720" y="677" width="14" height="13" fill="#795b5b"/>
<rect x="720" y="663" width="14" height="14" fill="#785a5a"/>
<rect x="720" y="648" width="14" height="15" fill="#775a5a"/>
<rect x="720" y="633" width="14" height="15" fill="#765959"/>
<rect x="720" y="617" width="14" height="16" fill="#755858"/>
<rect x="720" y="520" width="14" height="97" fill="#7a5c5c"/>
<rect x="720" y="419" width="14" height="101" fill="#795b5b"/>
<rect x="720" y="359" width="14" height="60" fill="#785b5b"/>
<rect x="720" y="292" width="14" height="67" fill="#785a5a"/>
<rect x="720" y="255" width="14" height="37" fill="#7d5e5e"/>
<rect x="720" y="216" width="14" height="39" fill="#806060"/>
<rect x="720" y="175" width="14" height="41" fill="#856464"/>
<rect x="720" y="131" width="14" height="44" fill="#8c6a6a"/>
<rect x="734" y="804" width="14" height="5" fill="#b58888"/>
<rect x="734" y="798" width="14" height="6" fill="#b28686"/>
<rect x="734" y="791" width="14" height="7" fill="#af8484"/>
<rect x="734" y="784" width="14" height="7" fill="#ac8181"/>
<rect x="734" y="777" width="14" height="7" fill="#a97f7f"/>
<rect x="734" y="769" width="14" height="8" fill="#a57d7d"/>
<rect x="734" y="761" width="14" height="8" fill="#a27a7a"/>
<rect x="734" y="753" width="14" height="8" fill="#9f7878"/>
<rect x="734" y="744" width="14" height="9" fill="#9c7676"/>
<rect x="734" y="734" width="14" height="10" fill="#997373"/>
<rect x="734" y="724" width="14" height="10" fill="#987272"/>
<rect x="734" y="713" width="14" height="11" fill="#977272"/>
<rect x="734" y="702" width="14" height="11" fill="#967171"/>
<rect x="734" y="690" width="14" height="12" fill="#957070"/>
<rect x="734" y="677" width="14" height="13" fill="#946f6f"/>
<rect x="734" y="663" width="14" height="14" fill="#936f6f"/>
<rect x="734" y="648" width="14" height="15" fill="#926e6e"/>
<rect x="734" y="633" width="14" height="15" fill="#916d6d"/>
<rect x="734" y="600" width="14" height="33" fill="#906c6c"/>
<rect x="734" y="581" width="14" height="19" fill="#926e6e"/>
<rect x="734" y="562" width="14" height="19" fill="#936f6f"/>
<rect x="734" y="542" width="14" height="20" fill="#947070"/>
<rect x="734" y="520" width="14" height="22" fill="#967171"/>
<rect x="734" y="497" width="14" height="23" fill="#977272"/>
<rect x="734" y="472" width="14" height="25" fill="#997373"/>
<rect x="734" y="446" width="14" height="26" fill="#9a7474"/>
<rect x="734" y="419" width="14" height="27" fill="#9c7575"/>
<rect x="734" y="390" width="14" height="29" fill="#a17979"/>
<rect x="734" y="359" width="14" height="31" fill="#a67d7d"/>
<rect x="734" y="327" width="14" height="32" fill="#ac8282"/>
<rect x="734" y="292" width="14" height="35" fill="#b58888"/>
<rect x="734" y="255" width="14" height="37" fill="#bf9090"/>
<rect x="734" y="216" width="14" height="39" fill="#cc9a9a"/>
<rect x="734" y="175" width="14" height="41" fill="#d9a3a3"/>
<rect x="734" y="131" width="14" height="44" fill="#e8afaf"/>
<rect x="748" y="804" width="14" height="5" fill="#ffbaba"/>
<rect x="748" y="798" width="14" height="6" fill="#ffb8b8"/>
<rect x="748" y="791" width="14" height="7" fill="#ffb6b6"/>
<rect x="748" y="784" width="14" height="7" fill="#ffb4b4"/>
<rect x="748" y="777" width="14" height="7" fill="#ffb1b1"/>
<rect x="748" y="769" width="14" height="8" fill="#ffafaf"/>
<rect x="748" y="761" width="14" height="8" fill="#ffadad"/>
<rect x="748" y="753" width="14" height="8" fill="#ffacac"/>
<rect x="748" y="744" width="14" height="9" fill="#ffaaaa"/>
<rect x="748" y="734" width="14" height="10" fill="#ffa9a9"/>
<rect x="748" y="724" width="14" height="10" fill="#ffa8a8"/>
<rect x="748" y="713" width="14" height="11" fill="#ffa7a7"/>
<rect x="748" y="702" width="14" height="11" fill="#ffa6a6"/>
<rect x="748" y="690" width="14" height="12" fill="#ffa4a4"/>
<rect x="748" y="677" width="14" height="13" fill="#ffa3a3"/>
<rect x="748" y="663" width="14" height="14" fill="#ffa4a4"/>
<rect x="748" y="633" width="14" height="30" fill="#ffa5a5"/>
<rect x="748" y="617" width="14" height="16" fill="#ffa6a6"/>
<rect x="748" y="600" width="14" height="17" fill="#ffa7a7"/>
<rect x="748" y="562" width="14" height="38" fill="#ffa8a8"/>
<rect x="748" y="542" width="14" height="20" fill="#ffa9a9"/>
<rect x="748" y="520" width="14" height="22" fill="#ffaaaa"/>
<rect x="748" y="472" width="14" height="48" fill="#ffabab"/>
<rect x="748" y="446" width="14" height="26" fill="#ffacac"/>
<rect x="748" y="419" width="14" height="27" fill="#ffadad"/>
<rect x="748" y="390" width="14" height="29" fill="#ffa1a1"/>
<rect x="748" y="359" width="14" height="31" fill="#ff9595"/>
<rect x="748" y="327" width="14" height="32" fill="#ff8989"/>
<rect x="748" y="292" width="14" height="35" fill="#ff7d7d"/>
<rect x="748" y="255" width="14" height="37" fill="#ff7171"/>
<rect x="748" y="216" width="14" height="39" fill="#ff6565"/>
<rect x="748" y="175" width="14" height="41" fill="#ff5959"/>
<rect x="748" y="131" width="14" height="44" fill="#ff4d4d"/>
<rect x="762" y="804" width="14" height="5" fill="#ffc0c0"/>
<rect x="762" y="798" width="14" height="6" fill="#ebb1b1"/>
<rect x="762" y="791" width="14" height="7" fill="#e0a9a9"/>
<rect x="762" y="784" width="14" height="7" fill="#d6a1a1"/>
<rect x="762" y="777" width="14" height="7" fill="#cc9a9a"/>
<rect x="762" y="769" width="14" height="8" fill="#c49494"/>
<rect x="762" y="761" width="14" height="8" fill="#bd8e8e"/>
<rect x="762" y="753" width="14" height="8" fill="#b58888"/>
<rect x="762" y="744" width="14" height="9" fill="#b08484"/>
<rect x="762" y="663" width="14" height="81" fill="#ab8181"/>
<rect x="762" y="648" width="14" height="15" fill="#af8484"/>
<rect x="762" y="633" width="14" height="15" fill="#b38787"/>
<rect x="762" y="617" width="14" height="16" fill="#b88a8a"/>
<rect x="762" y="600" width="14" height="17" fill="#bc8d8d"/>
<rect x="762" y="581" width="14" height="19" fill="#c09191"/>
<rect x="762" y="562" width="14" height="19" fill="#c49494"/>
<rect x="762" y="542" width="14" height="20" fill="#c89797"/>
<rect x="762" y="520" width="14" height="22" fill="#cc9a9a"/>
<rect x="762" y="497" width="14" height="23" fill="#d49f9f"/>
<rect x="762" y="472" width="14" height="25" fill="#dba5a5"/>
<rect x="762" y="446" width="14" height="26" fill="#e3abab"/>
<rect x="762" y="419" width="14" height="27" fill="#f0b4b4"/>
<rect x="762" y="390" width="14" height="29" fill="#f7baba"/>
<rect x="762" y="359" width="14" height="31" fill="#ffc0c0"/>
<rect x="762" y="327" width="14" height="32" fill="#ffadad"/>
<rect x="762" y="292" width="14" height="35" fill="#ff9a9a"/>
<rect x="762" y="255" width="14" height="37" fill="#ff8a8a"/>
<rect x="762" y="216" width="14" height="39" fill="#ff6f6f"/>
<rect x="762" y="175" width="14" height="41" fill="#ff5c5c"/>
<rect x="762" y="131" width="14" height="44" fill="#ff4747"/>
<rect x="776" y="804" width="14" height="5" fill="#614949"/>
<rect x="776" y="798" width="14" height="6" fill="#624a4a"/>
<rect x="776" y="791" width="14" height="7" fill="#644b4b"/>
<rect x="776" y="784" width="14" height="7" fill="#654c4c"/>
<rect x="776" y="777" width="14" height="7" fill="#674e4e"/>
<rect x="776" y="761" width="14" height="16" fill="#694f4f"/>
<rect x="776" y="753" width="14" height="8" fill="#6a5050"/>
<rect x="776" y="744" width="14" height="9" fill="#6b5050"/>
<rect x="776" y="734" width="14" height="10" fill="#6c5151"/>
<rect x="776" y="724" width="14" height="10" fill="#6c5252"/>
<rect x="776" y="713" width="14" height="11" fill="#6d5252"/>
<rect x="776" y="702" width="14" height="11" fill="#6e5353"/>
<rect x="776" y="690" width="14" height="12" fill="#6f5353"/>
<rect x="776" y="677" width="14" height="13" fill="#6f5454"/>
<rect x="776" y="663" width="14" height="14" fill="#705454"/>
<rect x="776" y="648" width="14" height="15" fill="#775959"/>
<rect x="776" y="633" width="14" height="15" fill="#7d5e5e"/>
<rect x="776" y="617" width="14" height="16" fill="#836262"/>
<rect x="776" y="600" width="14" height="17" fill="#886767"/>
<rect x="776" y="581" width="14" height="19" fill="#916d6d"/>
<rect x="776" y="562" width="14" height="19" fill="#997373"/>
<rect x="776" y="542" width="14" height="20" fill="#9e7777"/>
<rect x="776" y="520" width="14" height="22" fill="#a37b7b"/>
<rect x="776" y="497" width="14" height="23" fill="#ac8282"/>
<rect x="776" y="472" width="14" height="25" fill="#b58888"/>
<rect x="776" y="446" width="14" height="26" fill="#b88a8a"/>
<rect x="776" y="419" width="14" height="27" fill="#bf9090"/>
<rect x="776" y="390" width="14" height="29" fill="#cc9a9a"/>
<rect x="776" y="359" width="14" height="31" fill="#d9a3a3"/>
<rect x="776" y="327" width="14" height="32" fill="#ecb2b2"/>
<rect x="776" y="292" width="14" height="35" fill="#ffc0c0"/>
<rect x="776" y="255" width="14" height="37" fill="#ff9090"/>
<rect x="776" y="216" width="14" height="39" fill="#ff3030"/>
<rect x="776" y="175" width="14" height="41" fill="#ff0000"/>
<rect x="776" y="131" width="14" height="44" fill="#ff5200"/>
<rect x="790" y="804" width="14" height="5" fill="#382a2a"/>
<rect x="790" y="798" width="14" height="6" fill="#3b2c2c"/>
<rect x="790" y="791" width="14" height="7" fill="#3d2e2e"/>
<rect x="790" y="784" width="14" height="7" fill="#403030"/>
<rect x="790" y="777" width="14" height="7" fill="#443333"/>
<rect x="790" y="769" width="14" height="8" fill="#483636"/>
<rect x="790" y="761" width="14" height="8" fill="#4c3939"/>
<rect x="790" y="753" width="14" height="8" fill="#503c3c"/>
<rect x="790" y="744" width="14" height="9" fill="#543f3f"/>
<rect x="790" y="734" width="14" height="10" fill="#574242"/>
<rect x="790" y="724" width="14" height="10" fill="#5a4444"/>
<rect x="790" y="713" width="14" height="11" fill="#5d4646"/>
<rect x="790" y="702" width="14" height="11" fill="#604848"/>
<rect x="790" y="690" width="14" height="12" fill="#634a4a"/>
<rect x="790" y="677" width="14" height="13" fill="#664d4d"/>
<rect x="790" y="663" width="14" height="14" fill="#694f4f"/>
<rect x="790" y="648" width="14" height="15" fill="#705454"/>
<rect x="790" y="633" width="14" height="15" fill="#785a5a"/>
<rect x="790" y="617" width="14" height="16" fill="#7e5f5f"/>
<rect x="790" y="600" width="14" height="17" fill="#856464"/>
<rect x="790" y="581" width="14" height="19" fill="#8a6868"/>
<rect x="790" y="562" width="14" height="19" fill="#906c6c"/>
<rect x="790" y="542" width="14" height="20" fill="#967171"/>
<rect x="790" y="520" width="14" height="22" fill="#9c7575"/>
<rect x="790" y="497" width="14" height="23" fill="#a17979"/>
<rect x="790" y="472" width="14" height="25" fill="#a87f7f"/>
<rect x="790" y="446" width="14" height="26" fill="#b28686"/>
<rect x="790" y="419" width="14" height="27" fill="#bf9090"/>
<rect x="790" y="390" width="14" height="29" fill="#d19d9d"/>
<rect x="790" y="359" width="14" height="31" fill="#e0a9a9"/>
<rect x="790" y="327" width="14" height="32" fill="#f0b4b4"/>
<rect x="790" y="216" width="14" height="111" fill="#ffc0c0"/>
<rect x="790" y="175" width="14" height="41" fill="#f0b4b4"/>
<rect x="790" y="131" width="14" height="44" fill="#e0a9a9"/>
<rect x="804" y="804" width="14" height="5" fill="#694f4f"/>
<rect x="804" y="798" width="14" height="6" fill="#6d5252"/>
<rect x="804" y="791" width="14" height="7" fill="#715555"/>
<rect x="804" y="784" width="14" height="7" fill="#755858"/>
<rect x="804" y="777" width="14" height="7" fill="#795b5b"/>
<rect x="804" y="769" width="14" height="8" fill="#7d5e5e"/>
<rect x="804" y="761" width="14" height="8" fill="#7f6060"/>
<rect x="804" y="753" width="14" height="8" fill="#816161"/>
<rect x="804" y="744" width="14" height="9" fill="#836363"/>
<rect x="804" y="734" width="14" height="10" fill="#856464"/>
<rect x="804" y="724" width="14" height="10" fill="#876666"/>
<rect x="804" y="713" width="14" height="11" fill="#896767"/>
<rect x="804" y="702" width="14" height="11" fill="#8b6969"/>
<rect x="804" y="690" width="14" height="12" fill="#8d6a6a"/>
<rect x="804" y="677" width="14" height="13" fill="#8f6c6c"/>
<rect x="804" y="663" width="14" height="14" fill="#916d6d"/>
<rect x="804" y="648" width="14" height="15" fill="#967171"/>
<rect x="804" y="633" width="14" height="15" fill="#9c7575"/>
<rect x="804" y="617" width="14" height="16" fill="#9f7878"/>
<rect x="804" y="600" width="14" height="17" fill="#a37b7b"/>
<rect x="804" y="581" width="14" height="19" fill="#aa8080"/>
<rect x="804" y="562" width="14" height="19" fill="#b08484"/>
<rect x="804" y="542" width="14" height="20" fill="#b88a8a"/>
<rect x="804" y="520" width="14" height="22" fill="#bf9090"/>
<rect x="804" y="497" width="14" height="23" fill="#cc9a9a"/>
<rect x="804" y="472" width="14" height="25" fill="#dba5a5"/>
<rect x="804" y="446" width="14" height="26" fill="#f0b4b4"/>
<rect x="804" y="419" width="14" height="27" fill="#ffb1b1"/>
<rect x="804" y="390" width="14" height="29" fill="#ff6f6f"/>
<rect x="804" y="359" width="14" height="31" fill="#ff2626"/>
<rect x="804" y="327" width="14" height="32" fill="#ff0f0f"/>
<rect x="804" y="292" width="14" height="35" fill="#ff2626"/>
<rect x="804" y="255" width="14" height="37" fill="#ff6a6a"/>
<rect x="804" y="216" width="14" height="39" fill="#ffb1b1"/>
<rect x="804" y="175" width="14" height="41" fill="#e8afaf"/>
<rect x="804" y="131" width="14" height="44" fill="#d19d9d"/>
<rect x="818" y="804" width="15" height="5" fill="#997373"/>
<rect x="818" y="798" width="15" height="6" fill="#9c7575"/>
<rect x="818" y="791" width="15" height="7" fill="#a37b7b"/>
<rect x="818" y="784" width="15" height="7" fill="#a87f7f"/>
<rect x="818" y="777" width="15" height="7" fill="#ac8282"/>
<rect x="818" y="769" width="15" height="8" fill="#b08484"/>
<rect x="818" y="761" width="15" height="8" fill="#b88a8a"/>
<rect x="818" y="753" width="15" height="8" fill="#bf9090"/>
<rect x="818" y="744" width="15" height="9" fill="#c89797"/>
<rect x="818" y="734" width="15" height="10" fill="#d19d9d"/>
<rect x="818" y="724" width="15" height="10" fill="#d9a3a3"/>
<rect x="818" y="713" width="15" height="11" fill="#e3abab"/>
<rect x="818" y="702" width="15" height="11" fill="#f0b4b4"/>
<rect x="818" y="690" width="15" height="12" fill="#ffc0c0"/>
<rect x="818" y="677" width="15" height="13" fill="#ffa3a3"/>
<rect x="818" y="663" width="15" height="14" fill="#ff8686"/>
<rect x="818" y="648" width="15" height="15" fill="#ff6060"/>
<rect x="818" y="633" width="15" height="15" fill="#ff3030"/>
<rect x="818" y="617" width="15" height="16" fill="#ff0000"/>
<rect x="818" y="581" width="15" height="36" fill="#ff2900"/>
<rect x="818" y="542" width="15" height="39" fill="#ff5200"/>
<rect x="818" y="497" width="15" height="45" fill="#ff7c00"/>
<rect x="818" y="472" width="15" height="25" fill="#ffa500"/>
<rect x="818" y="446" width="15" height="26" fill="#ffbc00"/>
<rect x="818" y="419" width="15" height="27" fill="#ffd200"/>
<rect x="818" y="390" width="15" height="29" fill="#ffe800"/>
<rect x="818" y="359" width="15" height="31" fill="#ffff00"/>
<rect x="818" y="327" width="15" height="32" fill="#ffe800"/>
<rect x="818" y="292" width="15" height="35" fill="#ffd200"/>
<rect x="818" y="255" width="15" height="37" fill="#ffa500"/>
<rect x="818" y="216" width="15" height="39" fill="#ff5200"/>
<rect x="818" y="175" width="15" height="41" fill="#ff2900"/>
<rect x="818" y="131" width="15" height="44" fill="#ff0000"/>
<rect x="833" y="804" width="14" height="5" fill="#a67d7d"/>
<rect x="833" y="798" width="14" height="6" fill="#ab8181"/>
<rect x="833" y="791" width="14" height="7" fill="#b28686"/>
<rect x="833" y="784" width="14" height="7" fill="#b88a8a"/>
<rect x="833" y="777" width="14" height="7" fill="#be8f8f"/>
<rect x="833" y="769" width="14" height="8" fill="#c49494"/>
<rect x="833" y="761" width="14" height="8" fill="#cc9a9a"/>
<rect x="833" y="753" width="14" height="8" fill="#d49f9f"/>
<rect x="833" y="744" width="14" height="9" fill="#dba5a5"/>
<rect x="833" y="734" width="14" height="10" fill="#e3abab"/>
<rect x="833" y="724" width="14" height="10" fill="#ecb2b2"/>
<rect x="833" y="713" width="14" height="11" fill="#f7baba"/>
<rect x="833" y="702" width="14" height="11" fill="#ffc0c0"/>
<rect x="833" y="690" width="14" height="12" fill="#ff9090"/>
<rect x="833" y="677" width="14" height="13" fill="#ff6060"/>
<rect x="833" y="663" width="14" height="14" fill="#ff3030"/>
<rect x="833" y="648" width="14" height="15" fill="#ff0000"/>
<rect x="833" y="633" width="14" height="15" fill="#ff5200"/>
<rect x="833" y="617" width="14" height="16" fill="#ffbc00"/>
<rect x="833" y="600" width="14" height="17" fill="#ffff00"/>
<rect x="833" y="581" width="14" height="19" fill="#00cc33"/>
<rect x="833" y="542" width="14" height="39" fill="#c080ff"/>
<rect x="833" y="520" width="14" height="22" fill="#00cc33"/>
<rect x="833" y="359" width="14" height="161" fill="#66ff00"/>
<rect x="833" y="327" width="14" height="32" fill="#00cc33"/>
<rect x="833" y="131" width="14" height="196" fill="#c080ff"/>
<rect x="847" y="804" width="14" height="5" fill="#836363"/>
<rect x="847" y="798" width="14" height="6" fill="#886767"/>
<rect x="847" y="791" width="14" height="7" fill="#8c6a6a"/>
<rect x="847" y="784" width="14" height="7" fill="#906c6c"/>
<rect x="847" y="777" width="14" height="7" fill="#946f6f"/>
<rect x="847" y="769" width="14" height="8" fill="#997373"/>
<rect x="847" y="761" width="14" height="8" fill="#9c7575"/>
<rect x="847" y="753" width="14" height="8" fill="#a17979"/>
<rect x="847" y="744" width="14" height="9" fill="#a37b7b"/>
<rect x="847" y="734" width="14" height="10" fill="#a87f7f"/>
<rect x="847" y="724" width="14" height="10" fill="#b08484"/>
<rect x="847" y="713" width="14" height="11" fill="#b88a8a"/>
<rect x="847" y="702" width="14" height="11" fill="#c49494"/>
<rect x="847" y="690" width="14" height="12" fill="#d09c9c"/>
<rect x="847" y="677" width="14" height="13" fill="#e8afaf"/>
<rect x="847" y="663" width="14" height="14" fill="#ffc0c0"/>
<rect x="847" y="648" width="14" height="15" fill="#ff9090"/>
<rect x="847" y="633" width="14" height="15" fill="#ff6060"/>
<rect x="847" y="617" width="14" height="16" fill="#ff0000"/>
<rect x="847" y="600" width="14" height="17" fill="#ff5200"/>
<rect x="847" y="581" width="14" height="19" fill="#ffbc00"/>
<rect x="847" y="562" width="14" height="19" fill="#66ff00"/>
<rect x="847" y="131" width="14" height="431" fill="#c080ff"/>
<rect x="861" y="804" width="14" height="5" fill="#785a5a"/>
<rect x="861" y="798" width="14" height="6" fill="#7d5e5e"/>
<rect x="861" y="791" width="14" height="7" fill="#826262"/>
<rect x="861" y="784" width="14" height="7" fill="#866565"/>
<rect x="861" y="777" width="14" height="7" fill="#8c6a6a"/>
<rect x="861" y="769" width="14" height="8" fill="#906c6c"/>
<rect x="861" y="761" width="14" height="8" fill="#946f6f"/>
<rect x="861" y="753" width="14" height="8" fill="#997373"/>
<rect x="861" y="744" width="14" height="9" fill="#9e7777"/>
<rect x="861" y="734" width="14" height="10" fill="#a37b7b"/>
<rect x="861" y="724" width="14" height="10" fill="#ac8282"/>
<rect x="861" y="713" width="14" height="11" fill="#b48787"/>
<rect x="861" y="702" width="14" height="11" fill="#bd8e8e"/>
<rect x="861" y="690" width="14" height="12" fill="#c89797"/>
<rect x="861" y="677" width="14" height="13" fill="#d9a3a3"/>
<rect x="861" y="663" width="14" height="14" fill="#f0b4b4"/>
<rect x="861" y="648" width="14" height="15" fill="#ffc0c0"/>
<rect x="861" y="633" width="14" height="15" fill="#ff9090"/>
<rect x="861" y="617" width="14" height="16" fill="#ff6060"/>
<rect x="861" y="600" width="14" height="17" fill="#ff0000"/>
<rect x="861" y="581" width="14" height="19" fill="#ff5200"/>
<rect x="861" y="562" width="14" height="19" fill="#ffa500"/>
<rect x="861" y="542" width="14" height="20" fill="#ffd200"/>
<rect x="861" y="520" width="14" height="22" fill="#ffe800"/>
<rect x="861" y="497" width="14" height="23" fill="#ccff00"/>
<rect x="861" y="472" width="14" height="25" fill="#66ff00"/>
<rect x="861" y="446" width="14" height="26" fill="#00cc33"/>
<rect x="861" y="131" width="14" height="315" fill="#c080ff"/>
<rect x="875" y="804" width="14" height="5" fill="#b48787"/>
<rect x="875" y="798" width="14" height="6" fill="#bd8e8e"/>
<rect x="875" y="791" width="14" height="7" fill="#c89797"/>
<rect x="875" y="784" width="14" height="7" fill="#d09c9c"/>
<rect x="875" y="777" width="14" height="7" fill="#dba5a5"/>
<rect x="875" y="769" width="14" height="8" fill="#e8afaf"/>
<rect x="875" y="761" width="14" height="8" fill="#f5b8b8"/>
<rect x="875" y="753" width="14" height="8" fill="#ffc0c0"/>
<rect x="875" y="744" width="14" height="9" fill="#ffadad"/>
<rect x="875" y="734" width="14" height="10" fill="#ff9494"/>
<rect x="875" y="724" width="14" height="10" fill="#ff6d6d"/>
<rect x="875" y="713" width="14" height="11" fill="#ff5151"/>
<rect x="875" y="702" width="14" height="11" fill="#ff3232"/>
<rect x="875" y="690" width="14" height="12" fill="#ff0f0f"/>
<rect x="875" y="677" width="14" height="13" fill="#ff0000"/>
<rect x="875" y="663" width="14" height="14" fill="#ff0800"/>
<rect x="875" y="648" width="14" height="15" fill="#ff1900"/>
<rect x="875" y="633" width="14" height="15" fill="#ff3f00"/>
<rect x="875" y="617" width="14" height="16" fill="#ff5200"/>
<rect x="875" y="600" width="14" height="17" fill="#ff6800"/>
<rect x="875" y="581" width="14" height="19" fill="#ff9500"/>
<rect x="875" y="562" width="14" height="19" fill="#ffbc00"/>
<rect x="875" y="542" width="14" height="20" fill="#ffd200"/>
<rect x="875" y="520" width="14" height="22" fill="#ffe800"/>
<rect x="875" y="497" width="14" height="23" fill="#ccff00"/>
<rect x="875" y="472" width="14" height="25" fill="#66ff00"/>
<rect x="875" y="446" width="14" height="26" fill="#00cc33"/>
<rect x="875" y="131" width="14" height="315" fill="#c080ff"/>
<rect x="889" y="804" width="14" height="5" fill="#bd8e8e"/>
<rect x="889" y="798" width="14" height="6" fill="#c39393"/>
<rect x="889" y="791" width="14" height="7" fill="#c89797"/>
<rect x="889" y="784" width="14" height="7" fill="#d09c9c"/>
<rect x="889" y="777" width="14" height="7" fill="#d7a2a2"/>
<rect x="889" y="769" width="14" height="8" fill="#e0a9a9"/>
<rect x="889" y="761" width="14" height="8" fill="#e8afaf"/>
<rect x="889" y="753" width="14" height="8" fill="#f0b4b4"/>
<rect x="889" y="734" width="14" height="19" fill="#ffc0c0"/>
<rect x="889" y="724" width="14" height="10" fill="#ff9090"/>
<rect x="889" y="713" width="14" height="11" fill="#ff6060"/>
<rect x="889" y="702" width="14" height="11" fill="#ff3030"/>
<rect x="889" y="690" width="14" height="12" fill="#ff0000"/>
<rect x="889" y="677" width="14" height="13" fill="#ff5200"/>
<rect x="889" y="663" width="14" height="14" fill="#ffa500"/>
<rect x="889" y="648" width="14" height="15" fill="#ffd200"/>
<rect x="889" y="633" width="14" height="15" fill="#66ff00"/>
<rect x="889" y="131" width="14" height="502" fill="#c080ff"/>
<rect x="903" y="804" width="14" height="5" fill="#c49494"/>
<rect x="903" y="798" width="14" height="6" fill="#cc9a9a"/>
<rect x="903" y="791" width="14" height="7" fill="#d29e9e"/>
<rect x="903" y="784" width="14" height="7" fill="#d9a3a3"/>
<rect x="903" y="777" width="14" height="7" fill="#dea7a7"/>
<rect x="903" y="769" width="14" height="8" fill="#e4acac"/>
<rect x="903" y="761" width="14" height="8" fill="#ecb2b2"/>
<rect x="903" y="753" width="14" height="8" fill="#f5b8b8"/>
<rect x="903" y="744" width="14" height="9" fill="#ffc0c0"/>
<rect x="903" y="734" width="14" height="10" fill="#ffb1b1"/>
<rect x="903" y="724" width="14" height="10" fill="#ffa3a3"/>
<rect x="903" y="713" width="14" height="11" fill="#ff9494"/>
<rect x="903" y="702" width="14" height="11" fill="#ff7373"/>
<rect x="903" y="690" width="14" height="12" fill="#ff4d4d"/>
<rect x="903" y="677" width="14" height="13" fill="#ff2626"/>
<rect x="903" y="663" width="14" height="14" fill="#ff0000"/>
<rect x="903" y="648" width="14" height="15" fill="#ff2900"/>
<rect x="903" y="633" width="14" height="15" fill="#ff7c00"/>
<rect x="903" y="617" width="14" height="16" fill="#ffa500"/>
<rect x="903" y="600" width="14" height="17" fill="#ffd200"/>
<rect x="903" y="581" width="14" height="19" fill="#ccff00"/>
<rect x="903" y="562" width="14" height="19" fill="#00cc33"/>
<rect x="903" y="131" width="14" height="431" fill="#c080ff"/>
<rect x="917" y="804" width="14" height="5" fill="#c49494"/>
<rect x="917" y="798" width="14" height="6" fill="#cc9a9a"/>
<rect x="917" y="791" width="14" height="7" fill="#d49f9f"/>
<rect x="917" y="784" width="14" height="7" fill="#daa4a4"/>
<rect x="917" y="777" width="14" height="7" fill="#e0a9a9"/>
<rect x="917" y="769" width="14" height="8" fill="#e8afaf"/>
<rect x="917" y="761" width="14" height="8" fill="#f0b4b4"/>
<rect x="917" y="753" width="14" height="8" fill="#f7baba"/>
<rect x="917" y="744" width="14" height="9" fill="#ffc0c0"/>
<rect x="917" y="734" width="14" height="10" fill="#ffb1b1"/>
<rect x="917" y="724" width="14" height="10" fill="#ffa3a3"/>
<rect x="917" y="713" width="14" height="11" fill="#ff9494"/>
<rect x="917" y="702" width="14" height="11" fill="#ff7f7f"/>
<rect x="917" y="690" width="14" height="12" fill="#ff6666"/>
<rect x="917" y="677" width="14" height="13" fill="#ff4545"/>
<rect x="917" y="663" width="14" height="14" fill="#ff2323"/>
<rect x="917" y="648" width="14" height="15" fill="#ff0000"/>
<rect x="917" y="633" width="14" height="15" fill="#ff2900"/>
<rect x="917" y="617" width="14" height="16" fill="#ff6800"/>
<rect x="917" y="600" width="14" height="17" fill="#ffae00"/>
<rect x="917" y="581" width="14" height="19" fill="#ffd200"/>
<rect x="917" y="562" width="14" height="19" fill="#ccff00"/>
<rect x="917" y="542" width="14" height="20" fill="#00cc33"/>
<rect x="917" y="131" width="14" height="411" fill="#c080ff"/>
<rect x="931" y="804" width="14" height="5" fill="#dda6a6"/>
<rect x="931" y="798" width="14" height="6" fill="#e0a9a9"/>
<rect x="931" y="791" width="14" height="7" fill="#e4acac"/>
<rect x="931" y="784" width="14" height="7" fill="#ecb2b2"/>
<rect x="931" y="777" width="14" height="7" fill="#f4b7b7"/>
<rect x="931" y="769" width="14" height="8" fill="#fabcbc"/>
<rect x="931" y="761" width="14" height="8" fill="#ffc0c0"/>
<rect x="931" y="753" width="14" height="8" fill="#ffb1b1"/>
<rect x="931" y="744" width="14" height="9" fill="#ff9a9a"/>
<rect x="931" y="734" width="14" height="10" fill="#ff7f7f"/>
<rect x="931" y="724" width="14" height="10" fill="#ff5c5c"/>
<rect x="931" y="713" width="14" height="11" fill="#ff3a3a"/>
<rect x="931" y="702" width="14" height="11" fill="#ff1717"/>
<rect x="931" y="690" width="14" height="12" fill="#ff0500"/>
<rect x="931" y="677" width="14" height="13" fill="#ff3100"/>
<rect x="931" y="663" width="14" height="14" fill="#ff5200"/>
<rect x="931" y="648" width="14" height="15" fill="#ff7c00"/>
<rect x="931" y="633" width="14" height="15" fill="#ffa500"/>
<rect x="931" y="617" width="14" height="16" fill="#ffbc00"/>
<rect x="931" y="600" width="14" height="17" fill="#ffd200"/>
<rect x="931" y="581" width="14" height="19" fill="#ccff00"/>
<rect x="931" y="562" width="14" height="19" fill="#66ff00"/>
<rect x="931" y="542" width="14" height="20" fill="#00cc33"/>
<rect x="931" y="131" width="14" height="411" fill="#c080ff"/>
<rect x="945" y="804" width="14" height="5" fill="#e4acac"/>
<rect x="945" y="798" width="14" height="6" fill="#e8afaf"/>
<rect x="945" y="791" width="14" height="7" fill="#f0b4b4"/>
<rect x="945" y="784" width="14" height="7" fill="#f7baba"/>
<rect x="945" y="777" width="14" height="7" fill="#ffc0c0"/>
<rect x="945" y="769" width="14" height="8" fill="#ffbaba"/>
<rect x="945" y="761" width="14" height="8" fill="#ffadad"/>
<rect x="945" y="753" width="14" height="8" fill="#ff9090"/>
<rect x="945" y="744" width="14" height="9" fill="#ff6d6d"/>
<rect x="945" y="734" width="14" height="10" fill="#ff4d4d"/>
<rect x="945" y="724" width="14" height="10" fill="#ff2323"/>
<rect x="945" y="713" width="14" height="11" fill="#ff0404"/>
<rect x="945" y="702" width="14" height="11" fill="#ff3800"/>
<rect x="945" y="690" width="14" height="12" fill="#ff7000"/>
<rect x="945" y="677" width="14" height="13" fill="#ffa800"/>
<rect x="945" y="663" width="14" height="14" fill="#ffc000"/>
<rect x="945" y="648" width="14" height="15" fill="#ffd200"/>
<rect x="945" y="633" width="14" height="15" fill="#ccff00"/>
<rect x="945" y="617" width="14" height="16" fill="#66ff00"/>
<rect x="945" y="600" width="14" height="17" fill="#00cc33"/>
<rect x="945" y="131" width="14" height="469" fill="#c080ff"/>
<rect x="959" y="804" width="14" height="5" fill="#bd8e8e"/>
<rect x="959" y="798" width="14" height="6" fill="#c39393"/>
<rect x="959" y="791" width="14" height="7" fill="#cc9a9a"/>
<rect x="959" y="784" width="14" height="7" fill="#d49f9f"/>
<rect x="959" y="777" width="14" height="7" fill="#dda6a6"/>
<rect x="959" y="769" width="14" height="8" fill="#e4acac"/>
<rect x="959" y="761" width="14" height="8" fill="#eeb4b4"/>
<rect x="959" y="753" width="14" height="8" fill="#fabcbc"/>
<rect x="959" y="744" width="14" height="9" fill="#ffb1b1"/>
<rect x="959" y="734" width="14" height="10" fill="#ff9494"/>
<rect x="959" y="724" width="14" height="10" fill="#ff5c5c"/>
<rect x="959" y="713" width="14" height="11" fill="#ff2323"/>
<rect x="959" y="702" width="14" height="11" fill="#ff2100"/>
<rect x="959" y="690" width="14" height="12" fill="#ff6300"/>
<rect x="959" y="677" width="14" height="13" fill="#ffa800"/>
<rect x="959" y="663" width="14" height="14" fill="#ffdb00"/>
<rect x="959" y="648" width="14" height="15" fill="#66ff00"/>
<rect x="959" y="131" width="14" height="517" fill="#c080ff"/>
<rect x="973" y="804" width="14" height="5" fill="#c19191"/>
<rect x="973" y="798" width="14" height="6" fill="#c89797"/>
<rect x="973" y="791" width="14" height="7" fill="#d09c9c"/>
<rect x="973" y="784" width="14" height="7" fill="#d6a1a1"/>
<rect x="973" y="777" width="14" height="7" fill="#dea7a7"/>
<rect x="973" y="769" width="14" height="8" fill="#e6adad"/>
<rect x="973" y="761" width="14" height="8" fill="#eeb4b4"/>
<rect x="973" y="753" width="14" height="8" fill="#fabcbc"/>
<rect x="973" y="744" width="14" height="9" fill="#ffb6b6"/>
<rect x="973" y="734" width="14" height="10" fill="#ff9696"/>
<rect x="973" y="724" width="14" height="10" fill="#ff6d6d"/>
<rect x="973" y="713" width="14" height="11" fill="#ff3a3a"/>
<rect x="973" y="702" width="14" height="11" fill="#ff0000"/>
<rect x="973" y="690" width="14" height="12" fill="#ff3100"/>
<rect x="973" y="677" width="14" height="13" fill="#ff7000"/>
<rect x="973" y="663" width="14" height="14" fill="#ffa500"/>
<rect x="973" y="648" width="14" height="15" fill="#ffbe00"/>
<rect x="973" y="633" width="14" height="15" fill="#ffe000"/>
<rect x="973" y="617" width="14" height="16" fill="#ccff00"/>
<rect x="973" y="581" width="14" height="36" fill="#66ff00"/>
<rect x="973" y="562" width="14" height="19" fill="#00cc33"/>
<rect x="973" y="131" width="14" height="431" fill="#c080ff"/>
<rect x="987" y="804" width="14" height="5" fill="#ffbaba"/>
<rect x="987" y="798" width="14" height="6" fill="#ffb3b3"/>
<rect x="987" y="791" width="14" height="7" fill="#ffa7a7"/>
<rect x="987" y="784" width="14" height="7" fill="#ff9898"/>
<rect x="987" y="777" width="14" height="7" fill="#ff7f7f"/>
<rect x="987" y="769" width="14" height="8" fill="#ff6666"/>
<rect x="987" y="761" width="14" height="8" fill="#ff4d4d"/>
<rect x="987" y="753" width="14" height="8" fill="#ff3434"/>
<rect x="987" y="744" width="14" height="9" fill="#ff2323"/>
<rect x="987" y="734" width="14" height="10" fill="#ff0808"/>
<rect x="987" y="724" width="14" height="10" fill="#ff1000"/>
<rect x="987" y="713" width="14" height="11" fill="#ff2800"/>
<rect x="987" y="702" width="14" height="11" fill="#ff3f00"/>
<rect x="987" y="690" width="14" height="12" fill="#ff4900"/>
<rect x="987" y="677" width="14" height="13" fill="#ff5b00"/>
<rect x="987" y="663" width="14" height="14" fill="#ff7400"/>
<rect x="987" y="648" width="14" height="15" fill="#ff8900"/>
<rect x="987" y="633" width="14" height="15" fill="#ffa000"/>
<rect x="987" y="617" width="14" height="16" fill="#ffbc00"/>
<rect x="987" y="600" width="14" height="17" fill="#ffd200"/>
<rect x="987" y="581" width="14" height="19" fill="#ffdb00"/>
<rect x="987" y="562" width="14" height="19" fill="#ffff00"/>
<rect x="987" y="520" width="14" height="42" fill="#66ff00"/>
<rect x="987" y="472" width="14" height="48" fill="#00cc33"/>
<rect x="987" y="292" width="14" height="180" fill="#66ff00"/>
<rect x="987" y="255" width="14" height="37" fill="#00cc33"/>
<rect x="987" y="131" width="14" height="124" fill="#c080ff"/>
<rect x="1001" y="804" width="14" height="5" fill="#ffa7a7"/>
<rect x="1001" y="798" width="14" height="6" fill="#ff8c8c"/>
<rect x="1001" y="791" width="14" height="7" fill="#ff6d6d"/>
<rect x="1001" y="784" width="14" height="7" fill="#ff4d4d"/>
<rect x="1001" y="777" width="14" height="7" fill="#ff2a2a"/>
<rect x="1001" y="769" width="14" height="8" fill="#ff0000"/>
<rect x="1001" y="761" width="14" height="8" fill="#ff2100"/>
<rect x="1001" y="753" width="14" height="8" fill="#ff4900"/>
<rect x="1001" y="744" width="14" height="9" fill="#ff7000"/>
<rect x="1001" y="734" width="14" height="10" fill="#ff9500"/>
<rect x="1001" y="724" width="14" height="10" fill="#ffac00"/>
<rect x="1001" y="702" width="14" height="22" fill="#ffb500"/>
<rect x="1001" y="690" width="14" height="12" fill="#ffb300"/>
<rect x="1001" y="663" width="14" height="27" fill="#ffae00"/>
<rect x="1001" y="648" width="14" height="15" fill="#ffb300"/>
<rect x="1001" y="633" width="14" height="15" fill="#ffbc00"/>
<rect x="1001" y="617" width="14" height="16" fill="#ffc900"/>
<rect x="1001" y="600" width="14" height="17" fill="#ffdb00"/>
<rect x="1001" y="581" width="14" height="19" fill="#ffff00"/>
<rect x="1001" y="562" width="14" height="19" fill="#ccff00"/>
<rect x="1001" y="520" width="14" height="42" fill="#66ff00"/>
<rect x="1001" y="472" width="14" height="48" fill="#00cc33"/>
<rect x="1001" y="359" width="14" height="113" fill="#66ff00"/>
<rect x="1001" y="327" width="14" height="32" fill="#ccff00"/>
<rect x="1001" y="292" width="14" height="35" fill="#ffff00"/>
<rect x="1001" y="255" width="14" height="37" fill="#ccff00"/>
<rect x="1001" y="131" width="14" height="124" fill="#66ff00"/>
<rect x="1015" y="804" width="14" height="5" fill="#f0b4b4"/>
<rect x="1015" y="798" width="14" height="6" fill="#fabcbc"/>
<rect x="1015" y="791" width="14" height="7" fill="#ffbcbc"/>
<rect x="1015" y="784" width="14" height="7" fill="#ffb6b6"/>
<rect x="1015" y="777" width="14" height="7" fill="#ffa7a7"/>
<rect x="1015" y="769" width="14" height="8" fill="#ff9696"/>
<rect x="1015" y="761" width="14" height="8" fill="#ff8383"/>
<rect x="1015" y="753" width="14" height="8" fill="#ff6a6a"/>
<rect x="1015" y="744" width="14" height="9" fill="#ff4d4d"/>
<rect x="1015" y="734" width="14" height="10" fill="#ff3434"/>
<rect x="1015" y="724" width="14" height="10" fill="#ff1717"/>
<rect x="1015" y="713" width="14" height="11" fill="#ff0000"/>
<rect x="1015" y="702" width="14" height="11" fill="#ff1900"/>
<rect x="1015" y="690" width="14" height="12" fill="#ff3800"/>
<rect x="1015" y="677" width="14" height="13" fill="#ff6300"/>
<rect x="1015" y="663" width="14" height="14" fill="#ff8700"/>
<rect x="1015" y="648" width="14" height="15" fill="#ffa500"/>
<rect x="1015" y="633" width="14" height="15" fill="#ffbe00"/>
<rect x="1015" y="617" width="14" height="16" fill="#ffdb00"/>
<rect x="1015" y="600" width="14" height="17" fill="#ccff00"/>
<rect x="1015" y="581" width="14" height="19" fill="#00cc33"/>
<rect x="1015" y="359" width="14" height="222" fill="#c080ff"/>
<rect x="1015" y="327" width="14" height="32" fill="#00cc33"/>
<rect x="1015" y="131" width="14" height="196" fill="#66ff00"/>
<rect x="1029" y="804" width="14" height="5" fill="#e0a9a9"/>
<rect x="1029" y="798" width="14" height="6" fill="#edb3b3"/>
<rect x="1029" y="791" width="14" height="7" fill="#f5b8b8"/>
<rect x="1029" y="784" width="14" height="7" fill="#fabcbc"/>
<rect x="1029" y="777" width="14" height="7" fill="#ffc0c0"/>
<rect x="1029" y="769" width="14" height="8" fill="#ffb3b3"/>
<rect x="1029" y="761" width="14" height="8" fill="#ffa3a3"/>
<rect x="1029" y="753" width="14" height="8" fill="#ff9090"/>
<rect x="1029" y="744" width="14" height="9" fill="#ff7f7f"/>
<rect x="1029" y="734" width="14" height="10" fill="#ff6666"/>
<rect x="1029" y="724" width="14" height="10" fill="#ff4747"/>
<rect x="1029" y="713" width="14" height="11" fill="#ff2626"/>
<rect x="1029" y="702" width="14" height="11" fill="#ff0000"/>
<rect x="1029" y="690" width="14" height="12" fill="#ff1900"/>
<rect x="1029" y="677" width="14" height="13" fill="#ff4900"/>
<rect x="1029" y="663" width="14" height="14" fill="#ff7400"/>
<rect x="1029" y="648" width="14" height="15" fill="#ff9500"/>
<rect x="1029" y="633" width="14" height="15" fill="#ffae00"/>
<rect x="1029" y="617" width="14" height="16" fill="#ffc900"/>
<rect x="1029" y="600" width="14" height="17" fill="#ffd600"/>
<rect x="1029" y="581" width="14" height="19" fill="#ffe700"/>
<rect x="1029" y="562" width="14" height="19" fill="#ccff00"/>
<rect x="1029" y="520" width="14" height="42" fill="#66ff00"/>
<rect x="1029" y="497" width="14" height="23" fill="#00cc33"/>
<rect x="1029" y="131" width="14" height="366" fill="#c080ff"/>
<rect x="1043" y="804" width="14" height="5" fill="#d09c9c"/>
<rect x="1043" y="798" width="14" height="6" fill="#daa4a4"/>
<rect x="1043" y="791" width="14" height="7" fill="#e4acac"/>
<rect x="1043" y="784" width="14" height="7" fill="#ecb2b2"/>
<rect x="1043" y="777" width="14" height="7" fill="#f5b8b8"/>
<rect x="1043" y="769" width="14" height="8" fill="#ffc0c0"/>
<rect x="1043" y="761" width="14" height="8" fill="#ffb6b6"/>
<rect x="1043" y="753" width="14" height="8" fill="#ffa5a5"/>
<rect x="1043" y="744" width="14" height="9" fill="#ff9292"/>
<rect x="1043" y="734" width="14" height="10" fill="#ff6d6d"/>
<rect x="1043" y="724" width="14" height="10" fill="#ff4d4d"/>
<rect x="1043" y="713" width="14" height="11" fill="#ff2626"/>
<rect x="1043" y="702" width="14" height="11" fill="#ff0500"/>
<rect x="1043" y="690" width="14" height="12" fill="#ff3100"/>
<rect x="1043" y="677" width="14" height="13" fill="#ff6300"/>
<rect x="1043" y="663" width="14" height="14" fill="#ff9500"/>
<rect x="1043" y="648" width="14" height="15" fill="#ffbc00"/>
<rect x="1043" y="633" width="14" height="15" fill="#ffd200"/>
<rect x="1043" y="617" width="14" height="16" fill="#ffe700"/>
<rect x="1043" y="581" width="14" height="36" fill="#ffff00"/>
<rect x="1043" y="562" width="14" height="19" fill="#ccff00"/>
<rect x="1043" y="520" width="14" height="42" fill="#66ff00"/>
<rect x="1043" y="497" width="14" height="23" fill="#00cc33"/>
<rect x="1043" y="131" width="14" height="366" fill="#c080ff"/>
<rect x="1057" y="804" width="14" height="5" fill="#a47c7c"/>
<rect x="1057" y="798" width="14" height="6" fill="#ac8282"/>
<rect x="1057" y="791" width="14" height="7" fill="#b48787"/>
<rect x="1057" y="784" width="14" height="7" fill="#ba8c8c"/>
<rect x="1057" y="777" width="14" height="7" fill="#c19191"/>
<rect x="1057" y="769" width="14" height="8" fill="#c89797"/>
<rect x="1057" y="761" width="14" height="8" fill="#d09c9c"/>
<rect x="1057" y="753" width="14" height="8" fill="#daa4a4"/>
<rect x="1057" y="744" width="14" height="9" fill="#e4acac"/>
<rect x="1057" y="734" width="14" height="10" fill="#f0b4b4"/>
<rect x="1057" y="724" width="14" height="10" fill="#ffc0c0"/>
<rect x="1057" y="713" width="14" height="11" fill="#ffadad"/>
<rect x="1057" y="702" width="14" height="11" fill="#ff9090"/>
<rect x="1057" y="690" width="14" height="12" fill="#ff5656"/>
<rect x="1057" y="677" width="14" height="13" fill="#ff0f0f"/>
<rect x="1057" y="663" width="14" height="14" fill="#ff3800"/>
<rect x="1057" y="648" width="14" height="15" fill="#ff8c00"/>
<rect x="1057" y="633" width="14" height="15" fill="#ffd200"/>
<rect x="1057" y="617" width="14" height="16" fill="#66ff00"/>
<rect x="1057" y="131" width="14" height="486" fill="#c080ff"/>
<rect x="1071" y="804" width="14" height="5" fill="#b88a8a"/>
<rect x="1071" y="798" width="14" height="6" fill="#be8f8f"/>
<rect x="1071" y="791" width="14" height="7" fill="#c49494"/>
<rect x="1071" y="784" width="14" height="7" fill="#c89797"/>
<rect x="1071" y="777" width="14" height="7" fill="#cc9a9a"/>
<rect x="1071" y="769" width="14" height="8" fill="#d29e9e"/>
<rect x="1071" y="761" width="14" height="8" fill="#d9a3a3"/>
<rect x="1071" y="753" width="14" height="8" fill="#e0a9a9"/>
<rect x="1071" y="744" width="14" height="9" fill="#e8afaf"/>
<rect x="1071" y="734" width="14" height="10" fill="#f0b4b4"/>
<rect x="1071" y="724" width="14" height="10" fill="#ffc0c0"/>
<rect x="1071" y="713" width="14" height="11" fill="#ffb1b1"/>
<rect x="1071" y="702" width="14" height="11" fill="#ff9a9a"/>
<rect x="1071" y="690" width="14" height="12" fill="#ff6a6a"/>
<rect x="1071" y="677" width="14" height="13" fill="#ff2a2a"/>
<rect x="1071" y="663" width="14" height="14" fill="#ff0c00"/>
<rect x="1071" y="648" width="14" height="15" fill="#ff4900"/>
<rect x="1071" y="633" width="14" height="15" fill="#ffa000"/>
<rect x="1071" y="617" width="14" height="16" fill="#ffd600"/>
<rect x="1071" y="600" width="14" height="17" fill="#ccff00"/>
<rect x="1071" y="581" width="14" height="19" fill="#00cc33"/>
<rect x="1071" y="131" width="14" height="450" fill="#c080ff"/>
<rect x="1085" y="804" width="15" height="5" fill="#f5b8b8"/>
<rect x="1085" y="798" width="15" height="6" fill="#fabcbc"/>
<rect x="1085" y="791" width="15" height="7" fill="#ffc0c0"/>
<rect x="1085" y="784" width="15" height="7" fill="#ffbcbc"/>
<rect x="1085" y="777" width="15" height="7" fill="#ffb6b6"/>
<rect x="1085" y="769" width="15" height="8" fill="#ffadad"/>
<rect x="1085" y="761" width="15" height="8" fill="#ffa3a3"/>
<rect x="1085" y="753" width="15" height="8" fill="#ff9a9a"/>
<rect x="1085" y="744" width="15" height="9" fill="#ff9090"/>
<rect x="1085" y="734" width="15" height="10" fill="#ff8383"/>
<rect x="1085" y="724" width="15" height="10" fill="#ff7373"/>
<rect x="1085" y="713" width="15" height="11" fill="#ff5c5c"/>
<rect x="1085" y="702" width="15" height="11" fill="#ff4d4d"/>
<rect x="1085" y="690" width="15" height="12" fill="#ff2a2a"/>
<rect x="1085" y="677" width="15" height="13" fill="#ff0f0f"/>
<rect x="1085" y="663" width="15" height="14" fill="#ff0c00"/>
<rect x="1085" y="648" width="15" height="15" fill="#ff3800"/>
<rect x="1085" y="633" width="15" height="15" fill="#ff7000"/>
<rect x="1085" y="617" width="15" height="16" fill="#ffa500"/>
<rect x="1085" y="600" width="15" height="17" fill="#ffbe00"/>
<rect x="1085" y="581" width="15" height="19" fill="#ffff00"/>
<rect x="1085" y="562" width="15" height="19" fill="#66ff00"/>
<rect x="1085" y="542" width="15" height="20" fill="#00cc33"/>
<rect x="1085" y="131" width="15" height="411" fill="#c080ff"/>
<rect x="1100" y="804" width="14" height="5" fill="#ffb3b3"/>
<rect x="1100" y="798" width="14" height="6" fill="#ffadad"/>
<rect x="1100" y="791" width="14" height="7" fill="#ff9d9d"/>
<rect x="1100" y="784" width="14" height="7" fill="#ff9292"/>
<rect x="1100" y="777" width="14" height="7" fill="#ff8383"/>
<rect x="1100" y="769" width="14" height="8" fill="#ff6d6d"/>
<rect x="1100" y="761" width="14" height="8" fill="#ff5c5c"/>
<rect x="1100" y="753" width="14" height="8" fill="#ff4343"/>
<rect x="1100" y="744" width="14" height="9" fill="#ff2a2a"/>
<rect x="1100" y="734" width="14" height="10" fill="#ff0f0f"/>
<rect x="1100" y="724" width="14" height="10" fill="#ff0000"/>
<rect x="1100" y="713" width="14" height="11" fill="#ff1900"/>
<rect x="1100" y="702" width="14" height="11" fill="#ff3100"/>
<rect x="1100" y="690" width="14" height="12" fill="#ff5200"/>
<rect x="1100" y="677" width="14" height="13" fill="#ff7000"/>
<rect x="1100" y="663" width="14" height="14" fill="#ff8400"/>
<rect x="1100" y="648" width="14" height="15" fill="#ffa800"/>
<rect x="1100" y="633" width="14" height="15" fill="#ffc000"/>
<rect x="1100" y="617" width="14" height="16" fill="#ffd200"/>
<rect x="1100" y="600" width="14" height="17" fill="#ffe400"/>
<rect x="1100" y="581" width="14" height="19" fill="#ccff00"/>
<rect x="1100" y="562" width="14" height="19" fill="#66ff00"/>
<rect x="1100" y="542" width="14" height="20" fill="#00cc33"/>
<rect x="1100" y="131" width="14" height="411" fill="#c080ff"/>
<rect x="1114" y="804" width="14" height="5" fill="#dda6a6"/>
<rect x="1114" y="798" width="14" height="6" fill="#e4acac"/>
<rect x="1114" y="791" width="14" height="7" fill="#ecb2b2"/>
<rect x="1114" y="784" width="14" height="7" fill="#f5b8b8"/>
<rect x="1114" y="777" width="14" height="7" fill="#fabcbc"/>
<rect x="1114" y="769" width="14" height="8" fill="#ffc0c0"/>
<rect x="1114" y="761" width="14" height="8" fill="#ffbaba"/>
<rect x="1114" y="753" width="14" height="8" fill="#ffb3b3"/>
<rect x="1114" y="744" width="14" height="9" fill="#ffa1a1"/>
<rect x="1114" y="734" width="14" height="10" fill="#ff8686"/>
<rect x="1114" y="724" width="14" height="10" fill="#ff5c5c"/>
<rect x="1114" y="713" width="14" height="11" fill="#ff2a2a"/>
<rect x="1114" y="702" width="14" height="11" fill="#ff1000"/>
<rect x="1114" y="690" width="14" height="12" fill="#ff4900"/>
<rect x="1114" y="677" width="14" height="13" fill="#ff9500"/>
<rect x="1114" y="663" width="14" height="14" fill="#ffdb00"/>
<rect x="1114" y="648" width="14" height="15" fill="#ccff00"/>
<rect x="1114" y="633" width="14" height="15" fill="#00cc33"/>
<rect x="1114" y="131" width="14" height="502" fill="#c080ff"/>
</g>
<g shape-rendering="crispEdges">
<rect x="1140" y="801" width="25" height="5" fill="#bf83fe"/>
<rect x="1140" y="795" width="25" height="6" fill="#be8afc"/>
<rect x="1140" y="790" width="25" height="5" fill="#bd90fa"/>
<rect x="1140" y="785" width="25" height="5" fill="#bb97f9"/>
<rect x="1140" y="779" width="25" height="6" fill="#ba9df7"/>
<rect x="1140" y="774" width="25" height="5" fill="#b8a4f5"/>
<rect x="1140" y="769" width="25" height="5" fill="#b7aaf3"/>
<rect x="1140" y="763" width="25" height="6" fill="#b6b0f1"/>
<rect x="1140" y="758" width="25" height="5" fill="#b4b7ef"/>
<rect x="1140" y="753" width="25" height="5" fill="#b3bdee"/>
<rect x="1140" y="747" width="25" height="6" fill="#b1c4ec"/>
<rect x="1140" y="742" width="25" height="5" fill="#b0caea"/>
<rect x="1140" y="737" width="25" height="5" fill="#afd1e8"/>
<rect x="1140" y="732" width="25" height="5" fill="#add7e6"/>
<rect x="1140" y="726" width="25" height="6" fill="#a2cae8"/>
<rect x="1140" y="721" width="25" height="5" fill="#95bae9"/>
<rect x="1140" y="716" width="25" height="5" fill="#88aaeb"/>
<rect x="1140" y="710" width="25" height="6" fill="#7c9aed"/>
<rect x="1140" y="705" width="25" height="5" fill="#6f8bef"/>
<rect x="1140" y="700" width="25" height="5" fill="#627bf1"/>
<rect x="1140" y="694" width="25" height="6" fill="#566bf3"/>
<rect x="1140" y="689" width="25" height="5" fill="#495bf4"/>
<rect x="1140" y="684" width="25" height="5" fill="#3c4bf6"/>
<rect x="1140" y="678" width="25" height="6" fill="#303bf8"/>
<rect x="1140" y="673" width="25" height="5" fill="#232bfa"/>
<rect x="1140" y="668" width="25" height="5" fill="#161cfc"/>
<rect x="1140" y="662" width="25" height="6" fill="#090cfe"/>
<rect x="1140" y="657" width="25" height="5" fill="#0005fa"/>
<rect x="1140" y="652" width="25" height="5" fill="#0018e7"/>
<rect x="1140" y="646" width="25" height="6" fill="#002ad5"/>
<rect x="1140" y="641" width="25" height="5" fill="#003dc2"/>
<rect x="1140" y="636" width="25" height="5" fill="#0050af"/>
<rect x="1140" y="630" width="25" height="6" fill="#00629d"/>
<rect x="1140" y="625" width="25" height="5" fill="#00758a"/>
<rect x="1140" y="620" width="25" height="5" fill="#008877"/>
<rect x="1140" y="614" width="25" height="6" fill="#009b64"/>
<rect x="1140" y="609" width="25" height="5" fill="#00ad52"/>
<rect x="1140" y="604" width="25" height="5" fill="#00c03f"/>
<rect x="1140" y="599" width="25" height="5" fill="#00d32c"/>
<rect x="1140" y="593" width="25" height="6" fill="#00e619"/>
<rect x="1140" y="588" width="25" height="5" fill="#00f807"/>
<rect x="1140" y="583" width="25" height="5" fill="#0cff00"/>
<rect x="1140" y="577" width="25" height="6" fill="#1fff00"/>
<rect x="1140" y="572" width="25" height="5" fill="#31ff00"/>
<rect x="1140" y="567" width="25" height="5" fill="#44ff00"/>
<rect x="1140" y="561" width="25" height="6" fill="#57ff00"/>
<rect x="1140" y="556" width="25" height="5" fill="#6aff00"/>
<rect x="1140" y="551" width="25" height="5" fill="#7cff00"/>
<rect x="1140" y="545" width="25" height="6" fill="#8fff00"/>
<rect x="1140" y="540" width="25" height="5" fill="#a2ff00"/>
<rect x="1140" y="535" width="25" height="5" fill="#b4ff00"/>
<rect x="1140" y="529" width="25" height="6" fill="#c7ff00"/>
<rect x="1140" y="524" width="25" height="5" fill="#daff00"/>
<rect x="1140" y="519" width="25" height="5" fill="#edff00"/>
<rect x="1140" y="513" width="25" height="6" fill="#ffff00"/>
<rect x="1140" y="508" width="25" height="5" fill="#fff800"/>
<rect x="1140" y="503" width="25" height="5" fill="#fff200"/>
<rect x="1140" y="497" width="25" height="6" fill="#ffeb00"/>
<rect x="1140" y="492" width="25" height="5" fill="#ffe400"/>
<rect x="1140" y="487" width="25" height="5" fill="#ffde00"/>
<rect x="1140" y="481" width="25" height="6" fill="#ffd700"/>
<rect x="1140" y="476" width="25" height="5" fill="#ffd100"/>
<rect x="1140" y="471" width="25" height="5" fill="#ffca00"/>
<rect x="1140" y="466" width="25" height="5" fill="#ffc300"/>
<rect x="1140" y="460" width="25" height="6" fill="#ffbd00"/>
<rect x="1140" y="455" width="25" height="5" fill="#ffb600"/>
<rect x="1140" y="450" width="25" height="5" fill="#ffb000"/>
<rect x="1140" y="444" width="25" height="6" fill="#ffa900"/>
<rect x="1140" y="439" width="25" height="5" fill="#ffa000"/>
<rect x="1140" y="434" width="25" height="5" fill="#ff9400"/>
<rect x="1140" y="428" width="25" height="6" fill="#ff8800"/>
<rect x="1140" y="423" width="25" height="5" fill="#ff7c00"/>
<rect x="1140" y="418" width="25" height="5" fill="#ff7000"/>
<rect x="1140" y="412" width="25" height="6" fill="#ff6400"/>
<rect x="1140" y="407" width="25" height="5" fill="#ff5700"/>
<rect x="1140" y="402" width="25" height="5" fill="#ff4b00"/>
<rect x="1140" y="396" width="25" height="6" fill="#ff3f00"/>
<rect x="1140" y="391" width="25" height="5" fill="#ff3300"/>
<rect x="1140" y="386" width="25" height="5" fill="#ff2700"/>
<rect x="1140" y="380" width="25" height="6" fill="#ff1b00"/>
<rect x="1140" y="375" width="25" height="5" fill="#ff0f00"/>
<rect x="1140" y="370" width="25" height="5" fill="#ff0300"/>
<rect x="1140" y="364" width="25" height="6" fill="#ff0b0b"/>
<rect x="1140" y="359" width="25" height="5" fill="#ff1919"/>
<rect x="1140" y="354" width="25" height="5" fill="#ff2727"/>
<rect x="1140" y="348" width="25" height="6" fill="#ff3535"/>
<rect x="1140" y="343" width="25" height="5" fill="#ff4343"/>
<rect x="1140" y="338" width="25" height="5" fill="#ff5151"/>
<rect x="1140" y="332" width="25" height="6" fill="#ff6060"/>
<rect x="1140" y="327" width="25" height="5" fill="#ff6e6e"/>
<rect x="1140" y="322" width="25" height="5" fill="#ff7c7c"/>
<rect x="1140" y="317" width="25" height="5" fill="#ff8a8a"/>
<rect x="1140" y="311" width="25" height="6" fill="#ff9898"/>
<rect x="1140" y="306" width="25" height="5" fill="#ffa6a6"/>
<rect x="1140" y="301" width="25" height="5" fill="#ffb4b4"/>
<rect x="1140" y="295" width="25" height="6" fill="#febfbf"/>
<rect x="1140" y="290" width="25" height="5" fill="#f6b9b9"/>
<rect x="1140" y="285" width="25" height="5" fill="#eeb3b3"/>
<rect x="1140" y="279" width="25" height="6" fill="#e6adad"/>
<rect x="1140" y="274" width="25" height="5" fill="#dfa8a8"/>
<rect x="1140" y="269" width="25" height="5" fill="#d7a2a2"/>
<rect x="1140" y="263" width="25" height="6" fill="#cf9c9c"/>
<rect x="1140" y="258" width="25" height="5" fill="#c79696"/>
<rect x="1140" y="253" width="25" height="5" fill="#bf9090"/>
<rect x="1140" y="247" width="25" height="6" fill="#b78a8a"/>
<rect x="1140" y="242" width="25" height="5" fill="#b08484"/>
<rect x="1140" y="237" width="25" height="5" fill="#a87e7e"/>
<rect x="1140" y="231" width="25" height="6" fill="#a07979"/>
<rect x="1140" y="226" width="25" height="5" fill="#987373"/>
<rect x="1140" y="221" width="25" height="5" fill="#906d6d"/>
<rect x="1140" y="215" width="25" height="6" fill="#896767"/>
<rect x="1140" y="210" width="25" height="5" fill="#816161"/>
<rect x="1140" y="205" width="25" height="5" fill="#795b5b"/>
<rect x="1140" y="199" width="25" height="6" fill="#715555"/>
<rect x="1140" y="194" width="25" height="5" fill="#694f4f"/>
<rect x="1140" y="189" width="25" height="5" fill="#624949"/>
<rect x="1140" y="184" width="25" height="5" fill="#5a4444"/>
<rect x="1140" y="178" width="25" height="6" fill="#523e3e"/>
<rect x="1140" y="173" width="25" height="5" fill="#4a3838"/>
<rect x="1140" y="168" width="25" height="5" fill="#423232"/>
<rect x="1140" y="162" width="25" height="6" fill="#3b2c2c"/>
<rect x="1140" y="157" width="25" height="5" fill="#332626"/>
<rect x="1140" y="152" width="25" height="5" fill="#2b2020"/>
<rect x="1140" y="146" width="25" height="6" fill="#231a1a"/>
<rect x="1140" y="141" width="25" height="5" fill="#1b1515"/>
<rect x="1140" y="136" width="25" height="5" fill="#140f0f"/>
<rect x="1140" y="130" width="25" height="6" fill="#0c0909"/>
<rect x="1140" y="125" width="25" height="5" fill="#040303"/>
</g>
<g stroke="#000" stroke-width="1" fill="none" shape-rendering="crispEdges">
<rect x="1139.5" y="124.5" width="26" height="682"/>
<path d="M1140 661.5h11M1165 661.5h-11"/>
<path d="M1140 516.5h11M1165 516.5h-11"/>
<path d="M1140 371.5h11M1165 371.5h-11"/>
<path d="M1140 226.5h11M1165 226.5h-11"/>
<rect x="115.5" y="121.5" width="1012.0" height="690.0"/>
<path d="M144.5 811.5v-13M144.5 121.5v13M172.5 811.5v-13M172.5 121.5v13M200.5 811.5v-13M200.5 121.5v13M228.5 811.5v-13M228.5 121.5v13M256.5 811.5v-13M256.5 121.5v13M284.5 811.5v-13M284.5 121.5v13M312.5 811.5v-13M312.5 121.5v13M340.5 811.5v-13M340.5 121.5v13M369.5 811.5v-13M369.5 121.5v13M397.5 811.5v-13M397.5 121.5v13M425.5 811.5v-13M425.5 121.5v13M453.5 811.5v-13M453.5 121.5v13M481.5 811.5v-13M481.5 121.5v13M509.5 811.5v-13M509.5 121.5v13M537.5 811.5v-13M537.5 121.5v13M565.5 811.5v-13M565.5 121.5v13M593.5 811.5v-13M593.5 121.5v13M622.5 811.5v-13M622.5 121.5v13M650.5 811.5v-13M650.5 121.5v13M678.5 811.5v-13M678.5 121.5v13M706.5 811.5v-13M706.5 121.5v13M734.5 811.5v-13M734.5 121.5v13M762.5 811.5v-13M762.5 121.5v13M790.5 811.5v-13M790.5 121.5v13M818.5 811.5v-13M818.5 121.5v13M846.5 811.5v-13M846.5 121.5v13M875.5 811.5v-13M875.5 121.5v13M903.5 811.5v-13M903.5 121.5v13M931.5 811.5v-13M931.5 121.5v13M959.5 811.5v-13M959.5 121.5v13M987.5 811.5v-13M987.5 121.5v13M1015.5 811.5v-13M1015.5 121.5v13M1043.5 811.5v-13M1043.5 121.5v13M1071.5 811.5v-13M1071.5 121.5v13M1099.5 811.5v-13M1099.5 121.5v13M115.5 811.5h20M1127.5 811.5h-20M115.5 742.5h20M1127.5 742.5h-20M115.5 673.5h20M1127.5 673.5h-20M115.5 604.5h20M1127.5 604.5h-20M115.5 535.5h20M1127.5 535.5h-20M115.5 466.5h20M1127.5 466.5h-20M115.5 397.5h20M1127.5 397.5h-20M115.5 328.5h20M1127.5 328.5h-20M115.5 259.5h20M1127.5 259.5h-20M115.5 190.5h20M1127.5 190.5h-20M115.5 121.5h20M1127.5 121.5h-20"/>
</g>
<rect x="282.5" y="122" width="4" height="689.5" fill="#000"/>
<rect x="957.2" y="122" width="4" height="689.5" fill="#000"/>
<g font-family="Liberation Sans, Arial, sans-serif" font-size="24.6" fill="#000">
<text transform="translate(94,820.9) scale(0.958,1)" text-anchor="end">0</text>
<text transform="translate(94,751.9) scale(0.958,1)" text-anchor="end">50</text>
<text transform="translate(94,682.9) scale(0.958,1)" text-anchor="end">100</text>
<text transform="translate(94,613.9) scale(0.958,1)" text-anchor="end">150</text>
<text transform="translate(94,544.9) scale(0.958,1)" text-anchor="end">200</text>
<text transform="translate(94,475.9) scale(0.958,1)" text-anchor="end">250</text>
<text transform="translate(94,406.9) scale(0.958,1)" text-anchor="end">300</text>
<text transform="translate(94,337.9) scale(0.958,1)" text-anchor="end">350</text>
<text transform="translate(94,268.9) scale(0.958,1)" text-anchor="end">400</text>
<text transform="translate(94,199.9) scale(0.958,1)" text-anchor="end">450</text>
<text transform="translate(94,130.9) scale(0.958,1)" text-anchor="end">500</text>
<text transform="translate(116.3,854) scale(0.958,1)" text-anchor="middle">1800</text>
<text transform="translate(284.97,854) scale(0.958,1)" text-anchor="middle">0000</text>
<text transform="translate(453.63,854) scale(0.958,1)" text-anchor="middle">0600</text>
<text transform="translate(622.3,854) scale(0.958,1)" text-anchor="middle">1200</text>
<text transform="translate(790.97,854) scale(0.958,1)" text-anchor="middle">1800</text>
<text transform="translate(959.63,854) scale(0.958,1)" text-anchor="middle">0000</text>
<text transform="translate(1128.3,854) scale(0.958,1)" text-anchor="middle">0600</text>
<text transform="translate(1177.9,236.5) scale(0.958,1)" text-anchor="start">1.0000</text>
<text transform="translate(1177.9,381.43) scale(0.958,1)" text-anchor="start">0.1000</text>
<text transform="translate(1177.9,526.35) scale(0.958,1)" text-anchor="start">0.0100</text>
<text transform="translate(1177.9,671.28) scale(0.958,1)" text-anchor="start">0.0010</text>
<text transform="translate(1177.9,816.2) scale(0.958,1)" text-anchor="start">0.0001</text>
<text x="622" y="896.7" text-anchor="middle" font-weight="bold" font-size="26.5">time (UTC)</text>
<text transform="translate(45,466.7) rotate(-90)" text-anchor="middle" font-weight="bold" font-size="26.5">height (m)</text>
<text transform="translate(1273,467) rotate(-90)" text-anchor="middle" font-size="26.6">TKE (m<tspan dy="-10" font-size="21">2</tspan><tspan dy="10"> s</tspan><tspan dy="-10" font-size="21">-2</tspan><tspan dy="10">)</tspan></text>
</g>
</svg>
</body></html>
